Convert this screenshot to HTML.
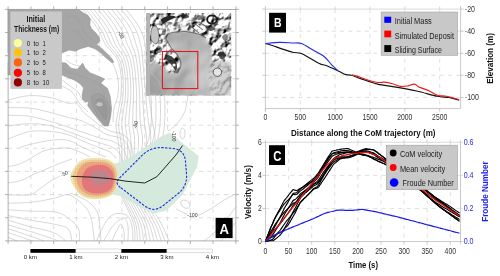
<!DOCTYPE html>
<html><head><meta charset="utf-8"><style>
html,body{margin:0;padding:0;background:#fff;width:500px;height:276px;overflow:hidden}
svg{display:block;will-change:transform}
text{font-family:"Liberation Sans",sans-serif}
</style></head><body>
<svg width="500" height="276" viewBox="0 0 500 276">
<rect width="500" height="276" fill="#fff"/>
<g id="map">
<g fill="none" stroke="#b0b0b0" stroke-width="0.5">
<path d="M8.0,100.0 C11.6,99.3 22.4,96.0 29.7,95.6 C37.0,95.2 45.1,96.5 51.5,97.8 C57.9,99.1 63.8,102.3 68.0,103.2 C72.2,104.1 74.2,101.8 76.7,103.2 C79.2,104.7 81.0,109.6 83.2,111.9 C85.4,114.2 86.8,115.0 89.7,117.3 C92.6,119.6 97.0,123.6 100.6,126.0 C104.2,128.4 107.9,130.2 111.5,131.5 C115.1,132.8 118.9,132.2 122.0,134.0 C125.1,135.8 128.0,137.7 130.0,142.0 C132.0,146.3 133.3,157.0 134.0,160.0"/>
<path d="M8.0,107.6 C12.3,107.8 24.0,107.1 34.0,108.7 C44.0,110.3 60.2,115.3 68.0,117.3 C75.8,119.3 76.7,119.0 81.0,120.6 C85.3,122.2 89.7,124.8 94.0,127.1 C98.3,129.4 102.8,132.9 107.1,134.7 C111.4,136.5 116.5,136.1 120.0,138.0 C123.5,139.9 126.2,142.0 128.0,146.0 C129.8,150.0 130.5,159.3 131.0,162.0"/>
<path d="M8.0,115.2 C11.6,115.4 22.4,115.2 29.7,116.3 C37.0,117.4 45.1,119.9 51.5,121.7 C57.9,123.5 62.4,125.2 68.0,127.1 C73.6,129.0 79.7,131.2 85.0,133.0 C90.3,134.8 95.2,136.5 100.0,138.0 C104.8,139.5 110.0,140.0 114.0,142.0 C118.0,144.0 121.7,146.2 124.0,150.0 C126.3,153.8 127.3,162.5 128.0,165.0"/>
<path d="M8.0,126.0 C10.9,125.7 18.9,124.1 25.4,123.9 C31.9,123.7 40.0,123.7 47.1,125.0 C54.2,126.3 61.7,129.3 68.0,131.5 C74.3,133.7 79.7,136.1 85.0,138.0 C90.3,139.9 95.5,141.5 100.0,143.0 C104.5,144.5 108.7,145.2 112.0,147.0 C115.3,148.8 118.0,150.8 120.0,154.0 C122.0,157.2 123.3,164.0 124.0,166.0"/>
<path d="M8.0,139.0 C11.6,137.8 22.4,132.8 29.7,131.5 C37.0,130.2 45.1,131.0 51.5,131.5 C57.9,132.0 62.4,132.9 68.0,134.7 C73.6,136.4 79.7,139.8 85.0,142.0 C90.3,144.2 95.8,146.3 100.0,148.0 C104.2,149.7 107.3,150.3 110.0,152.0 C112.7,153.7 115.0,157.0 116.0,158.0"/>
<path d="M18.9,148.0 C20.7,147.4 24.3,145.8 29.7,144.5 C35.1,143.2 45.1,140.9 51.5,140.2 C57.9,139.5 62.9,139.1 68.0,140.2 C73.1,141.3 77.3,144.9 82.0,147.0 C86.7,149.1 92.0,151.3 96.0,153.0 C100.0,154.7 104.3,156.3 106.0,157.0"/>
<path d="M8.0,166.5 C9.8,166.1 15.3,165.6 18.9,164.3 C22.5,163.0 26.1,160.9 29.7,158.9 C33.3,156.9 37.0,153.9 40.6,152.3 C44.2,150.7 46.9,149.8 51.5,149.1 C56.1,148.4 63.2,147.5 68.0,148.0 C72.8,148.5 76.3,150.5 80.0,152.0 C83.7,153.5 88.3,156.2 90.0,157.0"/>
<path d="M8.0,182.8 C10.2,182.4 16.6,182.1 21.0,180.6 C25.4,179.1 29.8,176.1 34.1,174.1 C38.5,172.1 42.8,170.5 47.1,168.7 C51.5,166.9 56.1,164.8 60.2,163.2 C64.4,161.6 70.0,159.7 72.0,159.0"/>
<path d="M8.0,194.7 C11.6,194.7 24.3,195.8 29.7,194.7 C35.1,193.6 37.0,190.5 40.6,188.2 C44.2,185.8 48.3,182.6 51.5,180.6 C54.7,178.6 58.6,176.8 60.0,176.0"/>
<path d="M8.0,203.2 C11.8,203.0 23.1,203.1 30.6,202.3 C38.1,201.5 47.1,199.8 53.3,198.5 C59.5,197.2 63.7,194.2 68.0,194.7 C72.3,195.2 76.1,198.9 79.3,201.3 C82.5,203.7 85.0,206.4 86.9,208.9 C88.8,211.4 89.7,213.6 90.6,216.4 C91.5,219.2 91.9,221.7 92.5,225.8 C93.1,229.9 94.1,238.5 94.4,241.0"/>
<path d="M70.0,193.0 C72.0,193.8 78.3,196.0 82.0,198.0 C85.7,200.0 89.3,202.3 92.0,205.0 C94.7,207.7 96.7,210.2 98.0,214.0 C99.3,217.8 99.5,223.5 100.0,228.0 C100.5,232.5 100.8,238.8 101.0,241.0"/>
<path d="M8.0,209.8 C11.8,210.0 23.1,210.8 30.6,211.1 C38.1,211.4 47.9,211.1 53.3,211.7 C58.6,212.3 60.2,213.4 62.7,214.5 C65.2,215.6 65.9,216.7 68.0,218.3 C70.1,219.9 73.6,221.8 75.5,224.0 C77.4,226.2 78.7,228.7 79.3,231.5 C79.9,234.3 79.3,239.4 79.3,241.0"/>
<path d="M8.0,215.5 C11.8,216.3 23.1,218.8 30.6,220.2 C38.1,221.6 47.1,222.6 53.3,224.0 C59.5,225.4 64.9,225.9 68.0,228.7 C71.1,231.5 71.3,238.9 72.0,241.0"/>
<path d="M8.0,220.2 C11.8,221.3 23.1,224.8 30.6,226.8 C38.1,228.9 47.4,230.1 53.3,232.5 C59.2,234.9 63.9,239.6 66.0,241.0"/>
<path d="M8.0,224.9 C11.8,226.0 23.1,229.2 30.6,231.5 C38.1,233.8 48.7,237.4 53.3,239.0 C57.9,240.6 57.2,240.7 58.0,241.0"/>
<path d="M8.0,228.7 C11.8,229.9 24.6,234.1 30.6,236.2 C36.6,238.2 41.8,240.2 44.0,241.0"/>
<path d="M8.0,232.5 C11.2,233.6 22.7,237.6 26.9,239.0 C31.1,240.4 32.0,240.7 33.0,241.0"/>
<path d="M8.0,237.2 C9.5,237.8 15.5,240.4 17.0,241.0"/>
<path d="M96.3,241.0 C97.9,237.8 102.9,226.5 105.7,222.1 C108.5,217.7 110.8,215.9 113.3,214.5 C115.8,213.1 118.3,213.3 120.8,213.6 C123.2,213.9 126.1,214.3 128.0,216.4 C129.9,218.5 131.2,221.9 132.0,226.0 C132.8,230.1 132.8,238.5 133.0,241.0"/>
<path d="M103.8,241.0 C105.1,238.8 108.9,231.2 111.4,227.7 C113.9,224.2 116.7,221.8 118.9,220.2 C121.1,218.6 123.1,217.3 124.6,218.3 C126.1,219.3 127.4,222.2 128.0,226.0 C128.6,229.8 128.0,238.5 128.0,241.0"/>
<path d="M112.0,241.0 C112.8,239.2 115.5,232.8 117.0,230.0 C118.5,227.2 119.8,223.7 121.0,224.0 C122.2,224.3 123.5,229.2 124.0,232.0 C124.5,234.8 124.0,239.5 124.0,241.0"/>
<path d="M176.0,208.9 C177.6,209.7 183.5,212.7 185.4,213.6 C187.3,214.5 187.2,214.4 187.5,214.6"/>
<path d="M198.0,214.6 C198.4,214.6 197.9,215.8 200.5,214.5 C203.1,213.2 209.6,209.5 213.7,207.0 C217.8,204.5 221.4,201.6 225.1,199.4 C228.8,197.2 234.2,194.7 236.0,193.8"/>
<path d="M204.3,241.0 C206.8,238.8 214.1,233.4 219.4,227.7 C224.7,222.0 233.2,210.4 236.0,207.0"/>
<path d="M221.0,241.0 C223.5,237.8 233.5,225.2 236.0,222.0"/>
<path d="M188.0,95.6 C187.4,98.3 186.7,106.8 184.7,111.7 C182.7,116.6 178.8,121.6 176.0,124.8 C173.2,128.0 169.3,130.0 168.0,131.0"/>
<path d="M62.0,80.0 C63.3,81.0 67.3,84.0 70.0,86.0 C72.7,88.0 76.0,89.7 78.0,92.0 C80.0,94.3 81.3,98.7 82.0,100.0"/>
<path d="M62.0,86.0 C63.7,87.0 69.0,89.0 72.0,92.0 C75.0,95.0 77.3,100.7 80.0,104.0 C82.7,107.3 86.7,110.7 88.0,112.0"/>
<path d="M66.0,60.0 C67.0,60.7 69.7,63.0 72.0,64.0 C74.3,65.0 78.7,65.7 80.0,66.0"/>
<path d="M100.0,50.0 C101.3,51.3 105.7,55.3 108.0,58.0 C110.3,60.7 112.3,62.3 114.0,66.0 C115.7,69.7 117.3,75.2 118.0,80.0 C118.7,84.8 118.7,90.3 118.0,95.0 C117.3,99.7 114.8,103.5 114.0,108.0 C113.2,112.5 113.2,119.7 113.0,122.0"/>
<path d="M83.0,9.4 C84.7,11.5 90.2,18.1 93.0,22.0 C95.8,25.9 98.0,29.3 100.0,33.0 C102.0,36.7 103.0,40.8 105.0,44.0 C107.0,47.2 109.8,49.2 112.0,52.0 C114.2,54.8 116.5,57.2 118.0,61.0 C119.5,64.8 120.5,69.3 121.0,75.0 C121.5,80.7 121.5,88.8 121.0,95.0 C120.5,101.2 118.8,107.0 118.0,112.0 C117.2,117.0 116.0,120.3 116.0,125.0 C116.0,129.7 117.3,134.2 118.0,140.0 C118.7,145.8 120.0,153.3 120.0,160.0 C120.0,166.7 117.8,174.2 118.0,180.0 C118.2,185.8 119.3,190.0 121.0,195.0 C122.7,200.0 125.8,205.0 128.0,210.0 C130.2,215.0 132.8,219.8 134.0,225.0 C135.2,230.2 134.8,238.3 135.0,241.0"/>
<path d="M86.0,9.4 C87.7,11.5 93.2,18.1 96.0,22.0 C98.9,25.9 101.0,29.3 103.0,33.0 C104.9,36.7 105.9,40.8 107.8,44.0 C109.7,47.2 112.4,49.2 114.4,52.0 C116.4,54.8 118.6,57.2 120.0,61.0 C121.4,64.8 122.3,69.3 122.8,75.0 C123.3,80.7 123.4,88.8 123.0,95.0 C122.6,101.2 121.1,107.0 120.3,112.0 C119.6,117.0 118.6,120.3 118.6,125.0 C118.7,129.7 120.0,134.2 120.6,140.0 C121.2,145.8 122.3,153.3 122.1,160.0 C122.0,166.7 119.6,174.2 119.7,180.0 C119.8,185.8 120.9,190.0 122.6,195.0 C124.2,200.0 127.5,205.0 129.8,210.0 C132.0,215.0 134.7,219.8 136.0,225.0 C137.3,230.2 137.2,238.3 137.4,241.0"/>
<path d="M89.8,9.4 C91.4,11.5 96.9,18.1 99.8,22.0 C102.6,25.9 104.7,29.3 106.6,33.0 C108.5,36.7 109.5,40.8 111.3,44.0 C113.1,47.2 115.5,49.2 117.3,52.0 C119.2,54.8 121.1,57.2 122.4,61.0 C123.7,64.8 124.6,69.3 125.1,75.0 C125.6,80.7 125.7,88.8 125.4,95.0 C125.1,101.2 123.8,107.0 123.2,112.0 C122.6,117.0 121.7,120.3 121.8,125.0 C121.9,129.7 123.3,134.2 123.8,140.0 C124.3,145.8 125.1,153.3 124.7,160.0 C124.4,166.7 121.8,174.2 121.8,180.0 C121.7,185.8 122.8,190.0 124.5,195.0 C126.1,200.0 129.6,205.0 131.9,210.0 C134.3,215.0 137.0,219.8 138.4,225.0 C139.8,230.2 140.0,238.3 140.3,241.0"/>
<path d="M93.8,9.4 C95.4,11.5 101.0,18.1 103.8,22.0 C106.6,25.9 108.6,29.3 110.5,33.0 C112.4,36.7 113.4,40.8 115.0,44.0 C116.7,47.2 118.8,49.2 120.5,52.0 C122.2,54.8 123.8,57.2 125.0,61.0 C126.2,64.8 127.0,69.3 127.5,75.0 C128.0,80.7 128.2,88.8 128.0,95.0 C127.8,101.2 126.7,107.0 126.3,112.0 C125.8,117.0 125.1,120.3 125.3,125.0 C125.4,129.7 126.9,134.2 127.3,140.0 C127.6,145.8 128.1,153.3 127.5,160.0 C127.0,166.7 124.2,174.2 124.0,180.0 C123.8,185.8 124.8,190.0 126.5,195.0 C128.2,200.0 131.8,205.0 134.3,210.0 C136.7,215.0 139.5,219.8 141.0,225.0 C142.6,230.2 143.1,238.3 143.5,241.0"/>
<path d="M98.0,9.4 C99.7,11.5 105.2,18.1 108.0,22.0 C110.8,25.9 112.8,29.3 114.6,33.0 C116.5,36.7 117.4,40.8 118.9,44.0 C120.5,47.2 122.4,49.2 123.9,52.0 C125.3,54.8 126.7,57.2 127.8,61.0 C128.8,64.8 129.6,69.3 130.1,75.0 C130.6,80.7 130.9,88.8 130.8,95.0 C130.7,101.2 129.8,107.0 129.5,112.0 C129.2,117.0 128.7,120.3 128.9,125.0 C129.1,129.7 130.6,134.2 130.9,140.0 C131.2,145.8 131.2,153.3 130.5,160.0 C129.7,166.7 126.7,174.2 126.4,180.0 C126.1,185.8 126.9,190.0 128.7,195.0 C130.4,200.0 134.2,205.0 136.7,210.0 C139.2,215.0 142.1,219.8 143.8,225.0 C145.5,230.2 146.3,238.3 146.9,241.0"/>
<path d="M102.4,9.4 C104.0,11.5 109.6,18.1 112.4,22.0 C115.1,25.9 117.2,29.3 118.9,33.0 C120.7,36.7 121.6,40.8 123.0,44.0 C124.4,47.2 126.1,49.2 127.3,52.0 C128.6,54.8 129.7,57.2 130.6,61.0 C131.5,64.8 132.2,69.3 132.7,75.0 C133.2,80.7 133.6,88.8 133.6,95.0 C133.6,101.2 133.0,107.0 132.9,112.0 C132.7,117.0 132.4,120.3 132.7,125.0 C133.0,129.7 134.5,134.2 134.7,140.0 C134.8,145.8 134.5,153.3 133.5,160.0 C132.5,166.7 129.2,174.2 128.8,180.0 C128.4,185.8 129.2,190.0 130.9,195.0 C132.7,200.0 136.6,205.0 139.3,210.0 C141.9,215.0 144.8,219.8 146.6,225.0 C148.5,230.2 149.7,238.3 150.3,241.0"/>
<path d="M106.9,9.4 C108.6,11.5 114.2,18.1 116.9,22.0 C119.6,25.9 121.6,29.3 123.3,33.0 C125.1,36.7 126.0,40.8 127.2,44.0 C128.5,47.2 129.8,49.2 130.9,52.0 C132.0,54.8 132.8,57.2 133.6,61.0 C134.3,64.8 134.9,69.3 135.4,75.0 C135.9,80.7 136.4,88.8 136.6,95.0 C136.7,101.2 136.3,107.0 136.3,112.0 C136.3,117.0 136.2,120.3 136.6,125.0 C136.9,129.7 138.5,134.2 138.6,140.0 C138.6,145.8 137.9,153.3 136.7,160.0 C135.5,166.7 131.9,174.2 131.3,180.0 C130.8,185.8 131.5,190.0 133.2,195.0 C135.0,200.0 139.2,205.0 141.9,210.0 C144.6,215.0 147.6,219.8 149.6,225.0 C151.6,230.2 153.2,238.3 153.9,241.0"/>
<path d="M111.5,9.4 C113.2,11.5 118.8,18.1 121.5,22.0 C124.3,25.9 126.2,29.3 127.9,33.0 C129.5,36.7 130.4,40.8 131.5,44.0 C132.7,47.2 133.7,49.2 134.6,52.0 C135.4,54.8 136.0,57.2 136.6,61.0 C137.2,64.8 137.8,69.3 138.3,75.0 C138.8,80.7 139.3,88.8 139.6,95.0 C139.9,101.2 139.7,107.0 139.9,112.0 C140.1,117.0 140.1,120.3 140.6,125.0 C141.0,129.7 142.7,134.2 142.6,140.0 C142.4,145.8 141.3,153.3 139.9,160.0 C138.5,166.7 134.6,174.2 133.9,180.0 C133.2,185.8 133.8,190.0 135.6,195.0 C137.4,200.0 141.8,205.0 144.6,210.0 C147.4,215.0 150.4,219.8 152.6,225.0 C154.7,230.2 156.7,238.3 157.6,241.0"/>
<path d="M116.3,9.4 C117.9,11.5 123.6,18.1 126.3,22.0 C129.0,25.9 130.9,29.3 132.5,33.0 C134.1,36.7 135.0,40.8 135.9,44.0 C136.9,47.2 137.7,49.2 138.3,52.0 C138.9,54.8 139.2,57.2 139.7,61.0 C140.1,64.8 140.6,69.3 141.1,75.0 C141.6,80.7 142.3,88.8 142.7,95.0 C143.1,101.2 143.2,107.0 143.5,112.0 C143.9,117.0 144.1,120.3 144.6,125.0 C145.1,129.7 146.9,134.2 146.6,140.0 C146.4,145.8 144.9,153.3 143.2,160.0 C141.5,166.7 137.4,174.2 136.6,180.0 C135.7,185.8 136.2,190.0 138.0,195.0 C139.8,200.0 144.4,205.0 147.3,210.0 C150.3,215.0 153.3,219.8 155.7,225.0 C158.0,230.2 160.4,238.3 161.3,241.0"/>
<path d="M121.1,9.4 C122.8,11.5 128.4,18.1 131.1,22.0 C133.8,25.9 135.7,29.3 137.2,33.0 C138.8,36.7 139.6,40.8 140.4,44.0 C141.3,47.2 141.7,49.2 142.1,52.0 C142.5,54.8 142.5,57.2 142.8,61.0 C143.1,64.8 143.5,69.3 144.0,75.0 C144.5,80.7 145.3,88.8 145.8,95.0 C146.3,101.2 146.7,107.0 147.2,112.0 C147.7,117.0 148.2,120.3 148.8,125.0 C149.4,129.7 151.1,134.2 150.8,140.0 C150.4,145.8 148.5,153.3 146.6,160.0 C144.7,166.7 140.3,174.2 139.3,180.0 C138.2,185.8 138.7,190.0 140.5,195.0 C142.3,200.0 147.1,205.0 150.1,210.0 C153.2,215.0 156.3,219.8 158.8,225.0 C161.3,230.2 164.1,238.3 165.1,241.0"/>
<path d="M126.0,9.4 C127.7,11.5 133.3,18.1 136.0,22.0 C138.7,25.9 140.5,29.3 142.0,33.0 C143.5,36.7 144.3,40.8 145.0,44.0 C145.7,47.2 145.8,49.2 146.0,52.0 C146.2,54.8 145.8,57.2 146.0,61.0 C146.2,64.8 146.5,69.3 147.0,75.0 C147.5,80.7 148.3,88.8 149.0,95.0 C149.7,101.2 150.3,107.0 151.0,112.0 C151.7,117.0 152.3,120.3 153.0,125.0 C153.7,129.7 155.5,134.2 155.0,140.0 C154.5,145.8 152.2,153.3 150.0,160.0 C147.8,166.7 143.2,174.2 142.0,180.0 C140.8,185.8 141.2,190.0 143.0,195.0 C144.8,200.0 149.8,205.0 153.0,210.0 C156.2,215.0 159.3,219.8 162.0,225.0 C164.7,230.2 167.8,238.3 169.0,241.0"/>
<path d="M151.0,95.6 C151.1,98.0 151.5,105.1 151.5,110.0 C151.5,114.9 151.4,120.3 151.0,125.0 C150.6,129.7 150.0,133.8 149.0,138.0 C148.0,142.2 145.7,148.0 145.0,150.0"/>
<path d="M155.5,95.6 C155.6,98.0 156.0,105.1 156.0,110.0 C156.0,114.9 155.9,120.3 155.5,125.0 C155.1,129.7 154.5,133.8 153.5,138.0 C152.5,142.2 150.2,148.0 149.5,150.0"/>
<path d="M160.0,95.6 C160.1,98.0 160.5,105.1 160.5,110.0 C160.5,114.9 160.4,120.3 160.0,125.0 C159.6,129.7 159.0,133.8 158.0,138.0 C157.0,142.2 154.7,148.0 154.0,150.0"/>
<path d="M164.5,95.6 C164.6,98.0 165.0,105.1 165.0,110.0 C165.0,114.9 164.9,120.3 164.5,125.0 C164.1,129.7 163.5,133.8 162.5,138.0 C161.5,142.2 159.2,148.0 158.5,150.0"/>
<ellipse cx="185.4" cy="204.2" rx="5" ry="3.6" transform="rotate(35 185.4 204.2)"/>
<ellipse cx="182.5" cy="133.5" rx="2.5" ry="5.5"/>
</g>
<g stroke="#cfcfcf" stroke-width="0.7" stroke-dasharray="4,4.3">
<line x1="30.9" y1="9.4" x2="30.9" y2="240.9"/>
<line x1="53.7" y1="9.4" x2="53.7" y2="240.9"/>
<line x1="76.4" y1="9.4" x2="76.4" y2="240.9"/>
<line x1="99.2" y1="9.4" x2="99.2" y2="240.9"/>
<line x1="122.0" y1="9.4" x2="122.0" y2="240.9"/>
<line x1="144.8" y1="9.4" x2="144.8" y2="240.9"/>
<line x1="167.6" y1="9.4" x2="167.6" y2="240.9"/>
<line x1="190.3" y1="9.4" x2="190.3" y2="240.9"/>
<line x1="213.1" y1="9.4" x2="213.1" y2="240.9"/>
<line x1="8.1" y1="32.5" x2="235.9" y2="32.5"/>
<line x1="8.1" y1="55.7" x2="235.9" y2="55.7"/>
<line x1="8.1" y1="78.8" x2="235.9" y2="78.8"/>
<line x1="8.1" y1="102.0" x2="235.9" y2="102.0"/>
<line x1="8.1" y1="125.2" x2="235.9" y2="125.2"/>
<line x1="8.1" y1="148.3" x2="235.9" y2="148.3"/>
<line x1="8.1" y1="171.4" x2="235.9" y2="171.4"/>
<line x1="8.1" y1="194.6" x2="235.9" y2="194.6"/>
<line x1="8.1" y1="217.8" x2="235.9" y2="217.8"/>
</g>
<path d="M8.0,9.4 78.6,9.4 82.1,12.1 88.0,15.6 90.3,19.1 89.9,25.0 91.5,28.5 96.2,33.3 99.3,37.5 100.0,40.5 98.6,43.0 96.5,44.2 102.1,48.8 109.0,55.5 112.5,59.5 113.8,62.3 112.0,62.8 105.6,57.4 99.7,52.0 94.7,48.8 88.3,46.4 80.3,48.8 75.5,51.2 69.2,50.1 64.4,52.0 62.0,53.0 8.0,53.0Z M8.0,62.5 62.0,62.5 66.0,63.1 70.8,67.9 77.1,69.5 82.7,63.1 85.1,67.9 89.9,72.7 98.0,75.9 104.8,79.0 100.8,83.1 107.6,88.5 110.3,96.7 111.6,108.9 110.4,118.4 108.2,126.0 103.9,126.0 98.4,119.5 93.0,113.0 87.6,105.4 88.7,101.5 85.4,102.1 82.5,99.5 82.1,95.0 83.5,88.0 80.3,83.9 74.0,79.9 67.6,77.5 62.0,75.1 8.0,75.1Z" fill="#a6a6a6" stroke="#8c8c8c" stroke-width="0.45" stroke-linejoin="round"/>
<rect x="8.1" y="9.4" width="4" height="58.5" fill="#a6a6a6"/>
<path d="M92.0,96.0 C93.2,94.2 97.7,93.5 100.0,94.0 C102.3,94.5 104.4,96.7 106.0,99.0 C107.6,101.3 108.9,104.8 109.5,108.0 C110.1,111.2 109.9,115.2 109.5,118.0 C109.1,120.8 108.2,124.0 107.0,124.5 C105.8,125.0 103.7,122.8 102.0,121.0 C100.3,119.2 98.5,116.7 97.0,114.0 C95.5,111.3 93.8,108.0 93.0,105.0 C92.2,102.0 90.8,97.8 92.0,96.0Z" fill="#a0a0a0" stroke="#8c8c8c" stroke-width="0.4"/>
<path d="M96.0,100.0 C96.8,98.7 100.3,98.3 102.0,99.0 C103.7,99.7 105.2,101.5 106.0,104.0 C106.8,106.5 107.2,111.3 107.0,114.0 C106.8,116.7 106.0,120.0 105.0,120.0 C104.0,120.0 102.3,116.2 101.0,114.0 C99.7,111.8 97.8,109.3 97.0,107.0 C96.2,104.7 95.2,101.3 96.0,100.0Z" fill="#989898" stroke="#8c8c8c" stroke-width="0.35"/>
<ellipse cx="99.5" cy="104.3" rx="3" ry="2" fill="#c4c4c4"/>
<g fill="none" stroke="#999" stroke-width="0.45">
<path d="M66.0,18.0 C67.3,17.7 71.7,15.3 74.0,16.0 C76.3,16.7 78.3,19.3 80.0,22.0 C81.7,24.7 82.3,29.3 84.0,32.0 C85.7,34.7 88.3,36.3 90.0,38.0 C91.7,39.7 93.3,41.3 94.0,42.0"/>
<path d="M70.0,30.0 C71.3,30.3 75.7,30.3 78.0,32.0 C80.3,33.7 82.3,38.0 84.0,40.0 C85.7,42.0 87.3,43.3 88.0,44.0"/>
<path d="M62.0,68.0 C63.3,68.7 67.0,70.7 70.0,72.0 C73.0,73.3 76.3,74.7 80.0,76.0 C83.7,77.3 88.7,78.3 92.0,80.0 C95.3,81.7 97.8,83.5 100.0,86.0 C102.2,88.5 104.2,93.5 105.0,95.0"/>
</g>
<path d="M104.0,166.0 112.0,164.5 122.7,161.0 135.4,154.0 149.9,144.0 162.0,136.0 169.8,132.7 198.8,156.2 197.0,167.0 192.3,176.0 182.7,194.4 166.4,210.7 152.8,213.5 141.9,208.0 120.2,195.8 112.0,194.4 104.0,190.0Z" fill="#d4e8db" fill-opacity="0.95"/>
<clipPath id="blobclip"><path d="M70.3,176.3 C70.6,174.3 71.7,171.7 73.0,169.4 C74.3,167.1 76.2,164.1 78.2,162.4 C80.2,160.7 82.5,159.7 85.1,159.0 C87.7,158.3 90.6,158.2 93.8,158.1 C97.0,158.0 101.2,158.0 104.3,158.6 C107.3,159.2 110.1,160.1 112.1,161.6 C114.1,163.1 115.4,165.2 116.4,167.7 C117.4,170.1 118.1,173.4 118.2,176.3 C118.3,179.2 118.0,182.2 117.3,185.0 C116.6,187.8 115.7,190.8 113.8,192.9 C111.9,195.0 109.0,196.5 106.0,197.6 C103.0,198.7 99.1,199.3 95.6,199.3 C92.1,199.3 88.0,198.7 85.1,197.6 C82.2,196.5 80.1,194.7 78.2,192.9 C76.3,191.1 75.0,188.7 73.8,186.8 C72.6,184.9 71.8,183.3 71.2,181.6 C70.6,179.8 70.0,178.3 70.3,176.3Z"/></clipPath>
<path d="M70.3,176.3 C70.6,174.3 71.7,171.7 73.0,169.4 C74.3,167.1 76.2,164.1 78.2,162.4 C80.2,160.7 82.5,159.7 85.1,159.0 C87.7,158.3 90.6,158.2 93.8,158.1 C97.0,158.0 101.2,158.0 104.3,158.6 C107.3,159.2 110.1,160.1 112.1,161.6 C114.1,163.1 115.4,165.2 116.4,167.7 C117.4,170.1 118.1,173.4 118.2,176.3 C118.3,179.2 118.0,182.2 117.3,185.0 C116.6,187.8 115.7,190.8 113.8,192.9 C111.9,195.0 109.0,196.5 106.0,197.6 C103.0,198.7 99.1,199.3 95.6,199.3 C92.1,199.3 88.0,198.7 85.1,197.6 C82.2,196.5 80.1,194.7 78.2,192.9 C76.3,191.1 75.0,188.7 73.8,186.8 C72.6,184.9 71.8,183.3 71.2,181.6 C70.6,179.8 70.0,178.3 70.3,176.3Z" fill="#eef4b8" fill-opacity="0.9"/>
<path d="M73.0,176.3 C73.0,173.2 74.1,170.8 75.6,168.5 C77.0,166.2 79.0,163.8 81.7,162.4 C84.5,161.0 88.3,160.2 92.1,159.8 C95.9,159.5 100.8,159.6 104.3,160.3 C107.8,161.0 111.0,162.4 113.0,164.2 C115.0,166.0 115.9,168.8 116.6,171.1 C117.3,173.4 117.1,175.4 117.0,178.0 C116.9,180.6 116.9,184.2 115.9,186.8 C114.9,189.4 113.7,191.9 111.2,193.7 C108.7,195.5 104.6,196.8 100.8,197.4 C97.0,198.0 92.1,197.8 88.6,197.0 C85.1,196.2 82.1,194.6 79.9,192.9 C77.7,191.2 76.8,189.6 75.6,186.8 C74.4,184.0 73.0,179.4 73.0,176.3Z" fill="#f3d596"/>
<path d="M76.4,176.3 C76.8,173.7 78.2,170.0 79.9,167.7 C81.7,165.4 84.0,163.6 86.9,162.6 C89.8,161.6 93.8,161.7 97.3,161.8 C100.8,162.0 105.0,162.4 107.7,163.5 C110.4,164.6 112.3,166.4 113.6,168.5 C114.9,170.6 115.2,173.6 115.4,176.3 C115.6,179.1 115.3,182.4 114.5,185.0 C113.7,187.6 112.6,190.3 110.3,192.0 C108.0,193.7 104.4,194.9 100.8,195.3 C97.2,195.7 91.9,195.4 88.6,194.4 C85.3,193.4 82.7,191.2 80.8,189.4 C78.9,187.6 78.0,185.5 77.3,183.3 C76.6,181.1 76.0,178.9 76.4,176.3Z" fill="#eeac82"/>
<path d="M82.5,176.3 C83.2,173.6 84.7,170.4 86.9,168.5 C89.1,166.6 92.4,165.4 95.6,165.0 C98.8,164.6 103.2,164.9 106.0,165.9 C108.8,166.9 110.8,169.1 112.1,171.1 C113.4,173.1 113.6,175.4 113.6,178.0 C113.6,180.6 113.4,184.5 112.1,186.8 C110.8,189.1 108.8,190.9 106.0,192.0 C103.2,193.1 98.8,193.7 95.6,193.5 C92.4,193.3 89.1,192.5 86.9,191.1 C84.7,189.7 83.2,187.5 82.5,185.0 C81.8,182.5 81.8,179.1 82.5,176.3Z" fill="#e57c80"/>
<ellipse cx="99.9" cy="177.7" rx="9.6" ry="7.4" fill="#bc8d93"/>
<g stroke="#c05050" stroke-width="0.3" stroke-opacity="0.3" clip-path="url(#blobclip)">
<line x1="70.0" y1="157" x2="70.0" y2="200"/>
<line x1="71.9" y1="157" x2="71.9" y2="200"/>
<line x1="73.8" y1="157" x2="73.8" y2="200"/>
<line x1="75.7" y1="157" x2="75.7" y2="200"/>
<line x1="77.6" y1="157" x2="77.6" y2="200"/>
<line x1="79.5" y1="157" x2="79.5" y2="200"/>
<line x1="81.4" y1="157" x2="81.4" y2="200"/>
<line x1="83.3" y1="157" x2="83.3" y2="200"/>
<line x1="85.2" y1="157" x2="85.2" y2="200"/>
<line x1="87.1" y1="157" x2="87.1" y2="200"/>
<line x1="89.0" y1="157" x2="89.0" y2="200"/>
<line x1="90.9" y1="157" x2="90.9" y2="200"/>
<line x1="92.8" y1="157" x2="92.8" y2="200"/>
<line x1="94.7" y1="157" x2="94.7" y2="200"/>
<line x1="96.6" y1="157" x2="96.6" y2="200"/>
<line x1="98.5" y1="157" x2="98.5" y2="200"/>
<line x1="100.4" y1="157" x2="100.4" y2="200"/>
<line x1="102.3" y1="157" x2="102.3" y2="200"/>
<line x1="104.2" y1="157" x2="104.2" y2="200"/>
<line x1="106.1" y1="157" x2="106.1" y2="200"/>
<line x1="108.0" y1="157" x2="108.0" y2="200"/>
<line x1="109.9" y1="157" x2="109.9" y2="200"/>
<line x1="111.8" y1="157" x2="111.8" y2="200"/>
<line x1="113.7" y1="157" x2="113.7" y2="200"/>
<line x1="115.6" y1="157" x2="115.6" y2="200"/>
<line x1="117.5" y1="157" x2="117.5" y2="200"/>
<line x1="70" y1="157.0" x2="119" y2="157.0"/>
<line x1="70" y1="158.9" x2="119" y2="158.9"/>
<line x1="70" y1="160.8" x2="119" y2="160.8"/>
<line x1="70" y1="162.7" x2="119" y2="162.7"/>
<line x1="70" y1="164.6" x2="119" y2="164.6"/>
<line x1="70" y1="166.5" x2="119" y2="166.5"/>
<line x1="70" y1="168.4" x2="119" y2="168.4"/>
<line x1="70" y1="170.3" x2="119" y2="170.3"/>
<line x1="70" y1="172.2" x2="119" y2="172.2"/>
<line x1="70" y1="174.1" x2="119" y2="174.1"/>
<line x1="70" y1="176.0" x2="119" y2="176.0"/>
<line x1="70" y1="177.9" x2="119" y2="177.9"/>
<line x1="70" y1="179.8" x2="119" y2="179.8"/>
<line x1="70" y1="181.7" x2="119" y2="181.7"/>
<line x1="70" y1="183.6" x2="119" y2="183.6"/>
<line x1="70" y1="185.5" x2="119" y2="185.5"/>
<line x1="70" y1="187.4" x2="119" y2="187.4"/>
<line x1="70" y1="189.3" x2="119" y2="189.3"/>
<line x1="70" y1="191.2" x2="119" y2="191.2"/>
<line x1="70" y1="193.1" x2="119" y2="193.1"/>
<line x1="70" y1="195.0" x2="119" y2="195.0"/>
<line x1="70" y1="196.9" x2="119" y2="196.9"/>
<line x1="70" y1="198.8" x2="119" y2="198.8"/>
</g>
<path d="M120.1,187.2 Q114.5,183.0 119.4,178.1 L141.8,155.7 Q151.0,146.5 163.9,147.7 L172.5,148.4 Q184.5,149.5 185.5,161.5 L186.5,174.0 Q187.5,186.0 178.2,193.5 L163.3,205.5 Q154.0,213.0 144.4,205.7 Z" fill="none" stroke="#1f2fe0" stroke-width="1.15" stroke-dasharray="1.5,2.3" stroke-linecap="round"/>
<polyline points="71.2,176.3 92.1,177.2 109.5,178.6 126.0,181.2 144.7,183.0 156.9,176.7 175.9,155.0 182.5,145.5" fill="none" stroke="#111" stroke-width="0.9"/>
<g font-family="Liberation Sans, sans-serif" font-size="5.2" fill="#333">
<text x="64.3" y="175.5" text-anchor="middle" transform="rotate(-25 64.3 173.7)">-50</text>
<text x="121.2" y="36.6" text-anchor="middle" transform="rotate(62 121.2 34.8)">-50</text>
<text x="135.7" y="126.6" text-anchor="middle" transform="rotate(-80 135.7 124.8)">-50</text>
<text x="173.4" y="138" text-anchor="middle" transform="rotate(90 173.4 136.3)">-100</text>
<text x="192.4" y="216.8" text-anchor="middle">-100</text>
</g>
<defs>
<filter id="hs" x="0" y="0" width="100%" height="100%" color-interpolation-filters="sRGB"><feTurbulence type="fractalNoise" baseFrequency="0.13" numOctaves="4" seed="5" result="n"/><feDiffuseLighting in="n" surfaceScale="3.2" lighting-color="#fff" diffuseConstant="1.0" result="l"><feDistantLight azimuth="225" elevation="45"/></feDiffuseLighting><feColorMatrix type="matrix" values="1.6 0 0 0 -0.27  1.6 0 0 0 -0.27  1.6 0 0 0 -0.27  0 0 0 1 0"/></filter>
<filter id="hs2" x="0" y="0" width="100%" height="100%" color-interpolation-filters="sRGB"><feTurbulence type="fractalNoise" baseFrequency="0.05" numOctaves="2" seed="3" result="n"/><feDiffuseLighting in="n" surfaceScale="4" lighting-color="#fff" diffuseConstant="0.95" result="d"><feDistantLight azimuth="225" elevation="55"/></feDiffuseLighting><feComposite in="d" in2="SourceAlpha" operator="in"/></filter>
<filter id="blur1" x="-10%" y="-10%" width="120%" height="120%"><feGaussianBlur stdDeviation="0.9"/></filter><filter id="blur05" x="-20%" y="-20%" width="140%" height="140%"><feGaussianBlur stdDeviation="0.5"/></filter><filter id="blur2" x="-50%" y="-50%" width="200%" height="200%"><feGaussianBlur stdDeviation="4"/></filter>
<clipPath id="ic"><rect x="146.1" y="13" width="85.1" height="82.6"/></clipPath>
<linearGradient id="pg" x1="0" y1="1" x2="1" y2="0"><stop offset="0" stop-color="#a0a0a0"/><stop offset="0.5" stop-color="#b0b0b0"/><stop offset="1" stop-color="#bcbcbc"/></linearGradient>
</defs>
<g clip-path="url(#ic)">
<rect x="146.1" y="13" width="85.1" height="82.6" fill="#bdbdbd"/>
<rect x="146.1" y="13" width="85.1" height="82.6" filter="url(#hs)"/>
<g filter="url(#blur1)"><path d="M168.0,34.0 176.0,32.0 186.0,31.5 194.0,33.0 201.0,35.0 206.0,38.0 209.0,44.0 212.0,50.0 211.0,58.0 210.0,66.0 208.0,76.0 209.0,85.0 211.0,96.0 146.0,96.0 146.0,66.0 152.0,63.0 158.0,62.5 164.0,68.0 170.0,73.0 177.0,73.0 181.0,65.0 178.0,56.0 172.0,49.0 169.0,44.0 166.0,39.0Z" fill="url(#pg)"/></g>
<path d="M168.0,34.0 176.0,32.0 186.0,31.5 194.0,33.0 201.0,35.0 206.0,38.0 209.0,44.0 212.0,50.0 211.0,58.0 210.0,66.0 208.0,76.0 209.0,85.0 211.0,96.0 146.0,96.0 146.0,66.0 152.0,63.0 158.0,62.5 164.0,68.0 170.0,73.0 177.0,73.0 181.0,65.0 178.0,56.0 172.0,49.0 169.0,44.0 166.0,39.0Z" fill="#fff" filter="url(#hs2)" opacity="0.28"/>
<g filter="url(#blur1)"><path d="M207.0,62.0 220.0,60.0 231.2,62.0 231.2,96.0 207.0,96.0Z" fill="#c2c2c2" opacity="0.75"/></g>
<g filter="url(#blur2)">
<ellipse cx="186" cy="37" rx="20" ry="6" fill="#7a7a7a" opacity="0.3"/>
<ellipse cx="156" cy="84" rx="12" ry="11" fill="#7a7a7a" opacity="0.3"/>
<ellipse cx="200" cy="75" rx="9" ry="16" fill="#e0e0e0" opacity="0.35"/>
</g>
<g filter="url(#blur05)" fill="none" stroke="#3a3a3a" stroke-width="1.1" opacity="0.6">
<path d="M166.0,39.0 C166.3,38.2 166.3,35.2 168.0,34.0 C169.7,32.8 173.0,32.4 176.0,32.0 C179.0,31.6 183.0,31.3 186.0,31.5 C189.0,31.7 191.5,32.4 194.0,33.0 C196.5,33.6 199.0,34.2 201.0,35.0 C203.0,35.8 205.2,37.5 206.0,38.0"/>
<path d="M166.0,39.0 C166.5,39.8 168.0,42.3 169.0,44.0 C170.0,45.7 170.5,47.0 172.0,49.0 C173.5,51.0 176.5,53.3 178.0,56.0 C179.5,58.7 181.2,62.2 181.0,65.0 C180.8,67.8 177.7,71.7 177.0,73.0"/>
</g>
<g fill="none" stroke="#dcdcdc" stroke-width="0.7" opacity="0.45">
<path d="M200.0,50.0 C199.2,51.7 196.2,56.3 195.0,60.0 C193.8,63.7 192.7,68.0 193.0,72.0 C193.3,76.0 196.5,80.5 197.0,84.0 C197.5,87.5 196.2,91.5 196.0,93.0"/>
<path d="M150.0,72.0 C151.3,73.3 155.8,76.7 158.0,80.0 C160.2,83.3 162.2,90.0 163.0,92.0"/>
</g>
<g filter="url(#blur05)" fill="#262626">
<path d="M161.0,20.0 C161.3,18.8 163.3,17.8 165.0,17.0 C166.7,16.2 169.2,15.5 171.0,15.5 C172.8,15.5 175.8,16.4 176.0,17.0 C176.2,17.6 173.5,18.2 172.0,19.0 C170.5,19.8 168.5,20.7 167.0,21.5 C165.5,22.3 164.0,24.2 163.0,24.0 C162.0,23.8 160.7,21.2 161.0,20.0Z"/>
<path d="M180.0,15.0 C180.3,14.3 184.5,14.2 186.0,14.5 C187.5,14.8 189.3,16.3 189.0,17.0 C188.7,17.7 185.5,18.8 184.0,18.5 C182.5,18.2 179.7,15.7 180.0,15.0Z" opacity="0.8"/>
<ellipse cx="212" cy="19.5" rx="4.8" ry="4.2" fill="none" stroke="#1a1a1a" stroke-width="1.8"/>
<path d="M206.0,27.0 C206.3,26.2 210.5,26.2 212.0,26.5 C213.5,26.8 215.3,28.2 215.0,29.0 C214.7,29.8 211.5,31.3 210.0,31.0 C208.5,30.7 205.7,27.8 206.0,27.0Z" opacity="0.75"/>
<path d="M152.0,28.0 C153.0,26.0 155.8,25.3 157.0,27.0 C158.2,28.7 159.2,35.2 159.0,38.0 C158.8,40.8 157.3,43.8 156.0,44.0 C154.7,44.2 151.7,41.7 151.0,39.0 C150.3,36.3 151.0,30.0 152.0,28.0Z" fill="#c4c4c4" stroke="#333" stroke-width="0.5"/>
<path d="M166.0,55.0 C167.0,54.7 169.5,55.2 171.0,56.0 C172.5,56.8 174.0,58.3 175.0,60.0 C176.0,61.7 176.8,64.2 177.0,66.0 C177.2,67.8 176.7,70.8 176.0,71.0 C175.3,71.2 174.2,68.5 173.0,67.0 C171.8,65.5 170.3,63.5 169.0,62.0 C167.7,60.5 165.5,59.2 165.0,58.0 C164.5,56.8 165.0,55.3 166.0,55.0Z" opacity="0.85"/>
<path d="M218.0,53.0 C218.3,51.8 221.7,51.5 223.0,52.0 C224.3,52.5 226.3,54.8 226.0,56.0 C225.7,57.2 222.3,59.5 221.0,59.0 C219.7,58.5 217.7,54.2 218.0,53.0Z" opacity="0.8"/>
<path d="M163.0,29.0 C163.7,28.3 165.7,29.0 166.0,30.0 C166.3,31.0 165.7,34.3 165.0,35.0 C164.3,35.7 162.3,35.0 162.0,34.0 C161.7,33.0 162.3,29.7 163.0,29.0Z" opacity="0.55"/>
<path d="M222.0,37.0 C222.2,35.8 225.0,33.8 226.0,34.0 C227.0,34.2 228.2,36.8 228.0,38.0 C227.8,39.2 226.0,41.2 225.0,41.0 C224.0,40.8 221.8,38.2 222.0,37.0Z" opacity="0.55"/>
<path d="M189,25 L199,33 M194,23 L203,30 M199,22 L207,27" stroke="#3a3a3a" stroke-width="0.8" fill="none"/>
<path d="M156.0,48.0 C156.3,46.8 159.0,45.5 160.0,46.0 C161.0,46.5 162.3,49.8 162.0,51.0 C161.7,52.2 159.0,53.5 158.0,53.0 C157.0,52.5 155.7,49.2 156.0,48.0Z" opacity="0.55"/>
<path d="M197.0,16.0 C197.5,15.2 200.2,15.0 201.0,15.5 C201.8,16.0 202.5,18.2 202.0,19.0 C201.5,19.8 198.8,20.5 198.0,20.0 C197.2,19.5 196.5,16.8 197.0,16.0Z" opacity="0.6"/>
<path d="M150.0,56.0 C150.5,55.0 152.3,54.3 153.0,55.0 C153.7,55.7 154.5,59.0 154.0,60.0 C153.5,61.0 150.7,61.7 150.0,61.0 C149.3,60.3 149.5,57.0 150.0,56.0Z" opacity="0.5"/>
</g>
<circle cx="174" cy="65" r="1.6" fill="#f4f4f4"/>
<circle cx="217.4" cy="72.2" r="4.2" fill="#e4e4e4" stroke="#404040" stroke-width="0.8"/>
<rect x="146.1" y="13" width="4" height="82.6" fill="#b4b4b4"/>
</g>
<rect x="162.4" y="51.5" width="35.4" height="37.1" fill="none" stroke="#e8141e" stroke-width="1.1"/>
<g stroke="#9c9c9c" stroke-width="0.8" fill="none">
<rect x="8.1" y="9.4" width="227.8" height="231.5"/>
<line x1="8.1" y1="6.4" x2="8.1" y2="9.4"/>
<line x1="8.1" y1="240.9" x2="8.1" y2="243.9"/>
<line x1="30.9" y1="6.4" x2="30.9" y2="9.4"/>
<line x1="30.9" y1="240.9" x2="30.9" y2="243.9"/>
<line x1="53.7" y1="6.4" x2="53.7" y2="9.4"/>
<line x1="53.7" y1="240.9" x2="53.7" y2="243.9"/>
<line x1="76.4" y1="6.4" x2="76.4" y2="9.4"/>
<line x1="76.4" y1="240.9" x2="76.4" y2="243.9"/>
<line x1="99.2" y1="6.4" x2="99.2" y2="9.4"/>
<line x1="99.2" y1="240.9" x2="99.2" y2="243.9"/>
<line x1="122.0" y1="6.4" x2="122.0" y2="9.4"/>
<line x1="122.0" y1="240.9" x2="122.0" y2="243.9"/>
<line x1="144.8" y1="6.4" x2="144.8" y2="9.4"/>
<line x1="144.8" y1="240.9" x2="144.8" y2="243.9"/>
<line x1="167.6" y1="6.4" x2="167.6" y2="9.4"/>
<line x1="167.6" y1="240.9" x2="167.6" y2="243.9"/>
<line x1="190.3" y1="6.4" x2="190.3" y2="9.4"/>
<line x1="190.3" y1="240.9" x2="190.3" y2="243.9"/>
<line x1="213.1" y1="6.4" x2="213.1" y2="9.4"/>
<line x1="213.1" y1="240.9" x2="213.1" y2="243.9"/>
<line x1="235.9" y1="6.4" x2="235.9" y2="9.4"/>
<line x1="235.9" y1="240.9" x2="235.9" y2="243.9"/>
<line x1="5.1" y1="9.4" x2="8.1" y2="9.4"/>
<line x1="235.9" y1="9.4" x2="238.9" y2="9.4"/>
<line x1="5.1" y1="32.5" x2="8.1" y2="32.5"/>
<line x1="235.9" y1="32.5" x2="238.9" y2="32.5"/>
<line x1="5.1" y1="55.7" x2="8.1" y2="55.7"/>
<line x1="235.9" y1="55.7" x2="238.9" y2="55.7"/>
<line x1="5.1" y1="78.8" x2="8.1" y2="78.8"/>
<line x1="235.9" y1="78.8" x2="238.9" y2="78.8"/>
<line x1="5.1" y1="102.0" x2="8.1" y2="102.0"/>
<line x1="235.9" y1="102.0" x2="238.9" y2="102.0"/>
<line x1="5.1" y1="125.2" x2="8.1" y2="125.2"/>
<line x1="235.9" y1="125.2" x2="238.9" y2="125.2"/>
<line x1="5.1" y1="148.3" x2="8.1" y2="148.3"/>
<line x1="235.9" y1="148.3" x2="238.9" y2="148.3"/>
<line x1="5.1" y1="171.4" x2="8.1" y2="171.4"/>
<line x1="235.9" y1="171.4" x2="238.9" y2="171.4"/>
<line x1="5.1" y1="194.6" x2="8.1" y2="194.6"/>
<line x1="235.9" y1="194.6" x2="238.9" y2="194.6"/>
<line x1="5.1" y1="217.8" x2="8.1" y2="217.8"/>
<line x1="235.9" y1="217.8" x2="238.9" y2="217.8"/>
<line x1="5.1" y1="240.9" x2="8.1" y2="240.9"/>
<line x1="235.9" y1="240.9" x2="238.9" y2="240.9"/>
</g>
<rect x="10.4" y="11.5" width="51.5" height="77.4" fill="#c9c9c9"/>
<g font-family="Liberation Sans, sans-serif" fill="#1a1a1a">
<text x="26.4" y="22.4" font-size="8.4" font-weight="bold" textLength="18.8" lengthAdjust="spacingAndGlyphs">Initial</text>
<text x="14.1" y="32.2" font-size="8.4" font-weight="bold" textLength="45.2" lengthAdjust="spacingAndGlyphs">Thickness (m)</text>
<circle cx="17.9" cy="43.1" r="4.1" fill="#fdfd9c"/>
<text x="26.8" y="45.6" font-size="7" textLength="3.4" lengthAdjust="spacingAndGlyphs">0</text>
<text x="33.4" y="45.6" font-size="7" textLength="5.4" lengthAdjust="spacingAndGlyphs">to</text>
<text x="42.6" y="45.6" font-size="7" textLength="3.3" lengthAdjust="spacingAndGlyphs">1</text>
<circle cx="17.9" cy="52.7" r="4.1" fill="#fec30a"/>
<text x="26.8" y="55.2" font-size="7" textLength="3.4" lengthAdjust="spacingAndGlyphs">1</text>
<text x="33.4" y="55.2" font-size="7" textLength="5.4" lengthAdjust="spacingAndGlyphs">to</text>
<text x="42.6" y="55.2" font-size="7" textLength="3.3" lengthAdjust="spacingAndGlyphs">2</text>
<circle cx="17.9" cy="62.4" r="4.1" fill="#fc6210"/>
<text x="26.8" y="64.9" font-size="7" textLength="3.4" lengthAdjust="spacingAndGlyphs">2</text>
<text x="33.4" y="64.9" font-size="7" textLength="5.4" lengthAdjust="spacingAndGlyphs">to</text>
<text x="42.6" y="64.9" font-size="7" textLength="3.3" lengthAdjust="spacingAndGlyphs">5</text>
<circle cx="17.9" cy="72.8" r="4.1" fill="#fd0404"/>
<text x="26.8" y="75.3" font-size="7" textLength="3.4" lengthAdjust="spacingAndGlyphs">5</text>
<text x="33.4" y="75.3" font-size="7" textLength="5.4" lengthAdjust="spacingAndGlyphs">to</text>
<text x="42.6" y="75.3" font-size="7" textLength="3.3" lengthAdjust="spacingAndGlyphs">8</text>
<circle cx="17.9" cy="82.4" r="4.1" fill="#930000"/>
<text x="26.8" y="84.9" font-size="7" textLength="3.4" lengthAdjust="spacingAndGlyphs">8</text>
<text x="33.4" y="84.9" font-size="7" textLength="5.4" lengthAdjust="spacingAndGlyphs">to</text>
<text x="42.6" y="84.9" font-size="7" textLength="6.6" lengthAdjust="spacingAndGlyphs">10</text>
</g>
<rect x="215.6" y="217.9" width="17" height="20.2" fill="#000"/>
<text x="219.6" y="233.5" font-family="Liberation Sans, sans-serif" font-size="15.5" font-weight="bold" fill="#fff" textLength="9.5" lengthAdjust="spacingAndGlyphs">A</text>
<rect x="30.4" y="249" width="45.5" height="3.8" fill="#000"/>
<rect x="75.9" y="249" width="45.5" height="3.8" fill="#fff" stroke="#bbb" stroke-width="0.5"/>
<rect x="121.4" y="249" width="45.5" height="3.8" fill="#000"/>
<rect x="166.9" y="249" width="45.5" height="3.8" fill="#fff" stroke="#bbb" stroke-width="0.5"/>
<g font-family="Liberation Sans, sans-serif" font-size="6.1" fill="#1a1a1a">
<text x="23.8" y="259.3" textLength="13.2" lengthAdjust="spacingAndGlyphs">0 km</text>
<text x="69.3" y="259.3" textLength="13.2" lengthAdjust="spacingAndGlyphs">1 km</text>
<text x="114.8" y="259.3" textLength="13.2" lengthAdjust="spacingAndGlyphs">2 km</text>
<text x="160.3" y="259.3" textLength="13.2" lengthAdjust="spacingAndGlyphs">3 km</text>
<text x="205.8" y="259.3" textLength="13.2" lengthAdjust="spacingAndGlyphs">4 km</text>
</g>
</g>
<g id="chartB">
<g stroke="#d3d3d3" stroke-width="0.7" stroke-dasharray="4,4.3">
<line x1="300.3" y1="9.1" x2="300.3" y2="108.5"/>
<line x1="335.1" y1="9.1" x2="335.1" y2="108.5"/>
<line x1="370.0" y1="9.1" x2="370.0" y2="108.5"/>
<line x1="404.8" y1="9.1" x2="404.8" y2="108.5"/>
<line x1="439.7" y1="9.1" x2="439.7" y2="108.5"/>
<line x1="265.4" y1="31.2" x2="460.6" y2="31.2"/>
<line x1="265.4" y1="53.3" x2="460.6" y2="53.3"/>
<line x1="265.4" y1="75.3" x2="460.6" y2="75.3"/>
<line x1="265.4" y1="97.4" x2="460.6" y2="97.4"/>
</g>
<line x1="265.4" y1="9.1" x2="460.6" y2="9.1" stroke="#d0d0d0" stroke-width="0.8"/>
<g stroke="#c8c8c8" stroke-width="0.7">
<line x1="300.3" y1="6.6" x2="300.3" y2="9.1"/>
<line x1="335.1" y1="6.6" x2="335.1" y2="9.1"/>
<line x1="370.0" y1="6.6" x2="370.0" y2="9.1"/>
<line x1="404.8" y1="6.6" x2="404.8" y2="9.1"/>
<line x1="439.7" y1="6.6" x2="439.7" y2="9.1"/>
</g>
<g stroke="#bcbcbc" stroke-width="0.8">
<line x1="265.4" y1="6.1" x2="265.4" y2="111.5"/>
<line x1="460.6" y1="6.1" x2="460.6" y2="108.5"/>
<line x1="265.4" y1="108.5" x2="460.6" y2="108.5"/>
<line x1="265.4" y1="108.5" x2="265.4" y2="111.5"/>
<line x1="300.3" y1="108.5" x2="300.3" y2="111.5"/>
<line x1="335.1" y1="108.5" x2="335.1" y2="111.5"/>
<line x1="370.0" y1="108.5" x2="370.0" y2="111.5"/>
<line x1="404.8" y1="108.5" x2="404.8" y2="111.5"/>
<line x1="439.7" y1="108.5" x2="439.7" y2="111.5"/>
<line x1="262.4" y1="9.1" x2="265.4" y2="9.1"/>
<line x1="460.6" y1="9.1" x2="463.6" y2="9.1"/>
<line x1="262.4" y1="31.2" x2="265.4" y2="31.2"/>
<line x1="460.6" y1="31.2" x2="463.6" y2="31.2"/>
<line x1="262.4" y1="53.3" x2="265.4" y2="53.3"/>
<line x1="460.6" y1="53.3" x2="463.6" y2="53.3"/>
<line x1="262.4" y1="75.3" x2="265.4" y2="75.3"/>
<line x1="460.6" y1="75.3" x2="463.6" y2="75.3"/>
<line x1="262.4" y1="97.4" x2="265.4" y2="97.4"/>
<line x1="460.6" y1="97.4" x2="463.6" y2="97.4"/>
</g>
<path d="M265.4,43.5 C266.7,43.9 270.3,44.8 273.0,45.7 C275.7,46.6 278.4,47.8 281.7,48.9 C285.0,50.0 289.3,51.4 292.6,52.2 C295.9,53.0 298.4,52.5 301.3,53.5 C304.2,54.5 306.9,56.6 310.0,58.3 C313.1,60.0 317.3,62.6 319.8,63.7 C322.3,64.9 323.2,64.5 325.2,65.2 C327.2,65.9 329.5,67.0 331.7,68.0 C333.9,69.0 335.9,69.8 338.3,70.9 C340.7,72.0 343.7,73.9 345.9,74.6 C348.1,75.3 348.7,74.5 351.3,75.2 C353.9,75.9 357.1,77.4 361.5,78.9 C365.9,80.4 371.9,82.7 377.6,84.1 C383.4,85.5 389.5,85.9 396.0,87.1 C402.5,88.2 409.8,89.5 416.7,91.0 C423.6,92.5 432.0,95.2 437.4,96.3 C442.8,97.4 445.3,96.8 448.9,97.5 C452.5,98.2 457.5,99.8 459.2,100.2" fill="none" stroke="#111" stroke-width="1.15"/>
<path d="M352.0,74.9 C352.8,75.1 354.2,75.2 356.9,76.1 C359.6,77.0 364.9,79.1 368.4,80.2 C371.8,81.3 374.9,82.2 377.6,82.5 C380.3,82.8 382.0,81.9 384.5,82.1 C387.0,82.3 389.8,83.0 392.5,83.7 C395.2,84.4 398.1,86.0 400.6,86.4 C403.1,86.8 405.2,86.4 407.5,86.0 C409.8,85.6 412.5,83.9 414.4,84.1 C416.3,84.3 416.7,86.0 419.0,87.1 C421.3,88.1 425.1,89.1 428.2,90.4 C431.3,91.8 434.3,94.2 437.4,95.2 C440.5,96.2 443.0,95.6 446.6,96.3 C450.2,97.0 457.1,99.0 459.2,99.6" fill="none" stroke="#f01818" stroke-width="1.15"/>
<path d="M265.4,43.5 C267.8,43.3 275.1,42.5 279.6,42.4 C284.1,42.3 289.0,42.8 292.6,43.0 C296.2,43.2 298.0,42.4 301.3,43.5 C304.6,44.6 308.4,47.4 312.2,49.6 C316.0,51.8 320.9,54.0 324.1,56.5 C327.4,59.0 329.3,62.4 331.7,64.8 C334.1,67.2 337.2,69.9 338.3,70.9" fill="none" stroke="#2828f0" stroke-width="1.15"/>
<rect x="269.1" y="12.8" width="16.9" height="19.8" fill="#000"/>
<text x="274" y="27.3" font-family="Liberation Sans, sans-serif" font-size="13.5" font-weight="bold" fill="#fff" textLength="7.6" lengthAdjust="spacingAndGlyphs">B</text>
<rect x="381.1" y="12" width="76.6" height="43.4" fill="#c8c8c8" stroke="#a8a8a8" stroke-width="0.6"/>
<rect x="384.3" y="16.7" width="6.9" height="6.1" fill="#0000ff"/>
<rect x="384.3" y="30.6" width="6.9" height="6.7" fill="#ff0000"/>
<rect x="384.3" y="45.1" width="6.9" height="6.9" fill="#000"/>
<g font-family="Liberation Sans, sans-serif" font-size="8.4" fill="#1a1a1a">
<text x="394.8" y="24" textLength="37" lengthAdjust="spacingAndGlyphs">Initial Mass</text>
<text x="394.8" y="38.5" textLength="59.2" lengthAdjust="spacingAndGlyphs">Simulated Deposit</text>
<text x="394.8" y="52.6" textLength="47.1" lengthAdjust="spacingAndGlyphs">Sliding Surface</text>
</g>
<g font-family="Liberation Sans, sans-serif" font-size="8.4" fill="#333">
<text x="464.8" y="11.8" textLength="10.2" lengthAdjust="spacingAndGlyphs">-20</text>
<text x="464.8" y="33.9" textLength="10.2" lengthAdjust="spacingAndGlyphs">-40</text>
<text x="464.8" y="56.0" textLength="10.2" lengthAdjust="spacingAndGlyphs">-60</text>
<text x="464.8" y="78.1" textLength="10.2" lengthAdjust="spacingAndGlyphs">-80</text>
<text x="464.8" y="100.2" textLength="14.0" lengthAdjust="spacingAndGlyphs">-100</text>
<text x="263.5" y="119.9" textLength="3.8" lengthAdjust="spacingAndGlyphs">0</text>
<text x="294.6" y="119.9" textLength="11.4" lengthAdjust="spacingAndGlyphs">500</text>
<text x="327.5" y="119.9" textLength="15.2" lengthAdjust="spacingAndGlyphs">1000</text>
<text x="362.4" y="119.9" textLength="15.2" lengthAdjust="spacingAndGlyphs">1500</text>
<text x="397.2" y="119.9" textLength="15.2" lengthAdjust="spacingAndGlyphs">2000</text>
<text x="432.1" y="119.9" textLength="15.2" lengthAdjust="spacingAndGlyphs">2500</text>
</g>
<text x="291" y="135.5" font-family="Liberation Sans, sans-serif" font-size="8.7" font-weight="bold" fill="#111" textLength="144.5" lengthAdjust="spacingAndGlyphs">Distance along the CoM trajectory (m)</text>
<text transform="translate(492.8 58.5) rotate(-90)" font-family="Liberation Sans, sans-serif" font-size="8.7" font-weight="bold" fill="#111" text-anchor="middle" textLength="50.7" lengthAdjust="spacingAndGlyphs">Elevation (m)</text>
</g>
<g id="chartC">
<g stroke="#d3d3d3" stroke-width="0.7" stroke-dasharray="4,4.3">
<line x1="288.6" y1="142.3" x2="288.6" y2="241.5"/>
<line x1="311.7" y1="142.3" x2="311.7" y2="241.5"/>
<line x1="334.8" y1="142.3" x2="334.8" y2="241.5"/>
<line x1="357.9" y1="142.3" x2="357.9" y2="241.5"/>
<line x1="381.0" y1="142.3" x2="381.0" y2="241.5"/>
<line x1="404.1" y1="142.3" x2="404.1" y2="241.5"/>
<line x1="427.2" y1="142.3" x2="427.2" y2="241.5"/>
<line x1="450.3" y1="142.3" x2="450.3" y2="241.5"/>
<line x1="265.5" y1="208.4" x2="460.5" y2="208.4"/>
<line x1="265.5" y1="175.4" x2="460.5" y2="175.4"/>
</g>
<line x1="265.5" y1="142.3" x2="460.5" y2="142.3" stroke="#d0d0d0" stroke-width="0.8"/>
<g stroke="#c8c8c8" stroke-width="0.7">
<line x1="288.6" y1="139.8" x2="288.6" y2="142.3"/>
<line x1="311.7" y1="139.8" x2="311.7" y2="142.3"/>
<line x1="334.8" y1="139.8" x2="334.8" y2="142.3"/>
<line x1="357.9" y1="139.8" x2="357.9" y2="142.3"/>
<line x1="381.0" y1="139.8" x2="381.0" y2="142.3"/>
<line x1="404.1" y1="139.8" x2="404.1" y2="142.3"/>
<line x1="427.2" y1="139.8" x2="427.2" y2="142.3"/>
<line x1="450.3" y1="139.8" x2="450.3" y2="142.3"/>
</g>
<g stroke="#bcbcbc" stroke-width="0.8">
<line x1="265.5" y1="140.3" x2="265.5" y2="244.5"/>
<line x1="460.5" y1="140.3" x2="460.5" y2="244.5"/>
<line x1="262.5" y1="241.5" x2="463.5" y2="241.5"/>
<line x1="265.5" y1="241.5" x2="265.5" y2="244.5"/>
<line x1="288.6" y1="241.5" x2="288.6" y2="244.5"/>
<line x1="311.7" y1="241.5" x2="311.7" y2="244.5"/>
<line x1="334.8" y1="241.5" x2="334.8" y2="244.5"/>
<line x1="357.9" y1="241.5" x2="357.9" y2="244.5"/>
<line x1="381.0" y1="241.5" x2="381.0" y2="244.5"/>
<line x1="404.1" y1="241.5" x2="404.1" y2="244.5"/>
<line x1="427.2" y1="241.5" x2="427.2" y2="244.5"/>
<line x1="450.3" y1="241.5" x2="450.3" y2="244.5"/>
<line x1="262.5" y1="241.5" x2="265.5" y2="241.5"/>
<line x1="262.5" y1="208.4" x2="265.5" y2="208.4"/>
<line x1="262.5" y1="175.4" x2="265.5" y2="175.4"/>
<line x1="262.5" y1="142.3" x2="265.5" y2="142.3"/>
</g>
<g stroke="#d0d0f0" stroke-width="0.7">
<line x1="460.5" y1="241.5" x2="463.0" y2="241.5"/>
<line x1="460.5" y1="208.4" x2="463.0" y2="208.4"/>
<line x1="460.5" y1="175.4" x2="463.0" y2="175.4"/>
<line x1="460.5" y1="142.3" x2="463.0" y2="142.3"/>
</g>
<g fill="none" stroke="#000" stroke-width="1.15">
<path d="M265.5,241.5 C265.8,241.5 266.7,241.4 267.3,241.3 C268.0,241.2 268.6,241.0 269.2,240.8 C269.8,240.6 270.4,240.3 271.0,240.0 C271.7,239.7 272.3,239.5 272.9,239.0 C273.5,238.4 274.1,237.5 274.7,236.7 C275.4,236.0 276.0,235.2 276.6,234.4 C277.2,233.6 277.8,232.9 278.4,232.1 C279.1,231.4 279.7,230.7 280.3,230.0 C280.9,229.2 281.5,228.3 282.1,227.4 C282.7,226.5 283.4,225.4 284.0,224.5 C284.6,223.6 285.2,222.8 285.8,222.0 C286.4,221.2 287.1,220.4 287.7,219.7 C288.3,218.9 288.9,218.3 289.5,217.5 C290.1,216.7 290.8,215.9 291.4,215.1 C292.0,214.3 292.6,213.5 293.2,212.8 C293.8,212.1 294.5,211.5 295.1,210.7 C295.7,209.9 296.3,208.9 296.9,207.9 C297.5,207.0 298.1,205.9 298.8,204.9 C299.4,203.9 300.0,202.8 300.6,202.1 C301.2,201.3 301.8,200.9 302.5,200.3 C303.1,199.6 303.7,199.0 304.3,198.4 C304.9,197.8 305.5,197.2 306.2,196.6 C306.8,196.0 307.4,195.4 308.0,194.8 C308.6,194.2 309.2,193.5 309.9,192.9 C310.5,192.3 311.1,191.7 311.7,191.0 C312.3,190.4 312.9,189.6 313.5,189.2 C314.2,188.7 314.8,188.7 315.4,188.5 C316.0,188.4 316.6,188.5 317.2,188.1 C317.9,187.7 318.5,187.0 319.1,186.3 C319.7,185.5 320.3,184.5 320.9,183.6 C321.6,182.6 322.2,181.7 322.8,180.8 C323.4,179.9 324.0,179.0 324.6,178.1 C325.3,177.2 325.9,176.3 326.5,175.3 C327.1,174.4 327.7,173.4 328.3,172.5 C328.9,171.5 329.6,170.6 330.2,169.6 C330.8,168.7 331.4,167.7 332.0,166.8 C332.6,165.9 333.3,164.7 333.9,164.0 C334.5,163.3 335.1,163.1 335.7,162.6 C336.3,162.1 337.0,161.5 337.6,161.0 C338.2,160.4 338.8,159.8 339.4,159.4 C340.0,159.0 340.7,158.8 341.3,158.6 C341.9,158.4 342.5,158.2 343.1,158.0 C343.7,157.9 344.3,157.7 345.0,157.6 C345.6,157.4 346.2,157.3 346.8,157.1 C347.4,157.0 348.0,156.8 348.7,156.7 C349.3,156.5 349.9,156.2 350.5,156.0 C351.1,155.8 351.7,155.6 352.4,155.4 C353.0,155.2 353.6,155.1 354.2,154.9 C354.8,154.7 355.4,154.6 356.1,154.3 C356.7,154.1 357.3,153.6 357.9,153.5 C358.5,153.4 359.1,153.7 359.7,153.8 C360.4,153.8 361.0,153.9 361.6,154.1 C362.2,154.2 362.8,154.3 363.4,154.4 C364.1,154.6 364.7,154.7 365.3,154.9 C365.9,155.1 366.5,155.2 367.1,155.5 C367.8,155.7 368.4,156.1 369.0,156.4 C369.6,156.8 370.2,157.2 370.8,157.5 C371.5,157.8 372.1,158.1 372.7,158.4 C373.3,158.7 373.9,159.1 374.5,159.4 C375.1,159.7 375.8,160.0 376.4,160.3 C377.0,160.6 377.6,160.9 378.2,161.2 C378.8,161.5 379.5,161.7 380.1,162.0 C380.7,162.3 381.3,162.5 381.9,162.8 C382.5,163.1 383.2,163.3 383.8,163.6 C384.4,163.9 385.0,164.1 385.6,164.4 C386.2,164.7 386.9,165.0 387.5,165.4 C388.1,165.8 388.7,166.4 389.3,166.9 C389.9,167.3 390.5,167.8 391.2,168.3 C391.8,168.8 392.4,169.3 393.0,169.8 C393.6,170.3 394.2,170.8 394.9,171.2 C395.5,171.7 396.1,172.2 396.7,172.7 C397.3,173.2 397.9,173.7 398.6,174.2 C399.2,174.7 399.8,175.1 400.4,175.6 C401.0,176.1 401.6,176.6 402.3,177.1 C402.9,177.6 403.5,178.1 404.1,178.6 C404.7,179.0 405.3,179.5 405.9,179.9 C406.6,180.3 407.2,180.7 407.8,181.1 C408.4,181.6 409.0,182.0 409.6,182.4 C410.3,182.8 410.9,183.2 411.5,183.7 C412.1,184.1 412.7,184.5 413.3,184.9 C414.0,185.4 414.6,185.8 415.2,186.2 C415.8,186.7 416.4,187.1 417.0,187.6 C417.7,188.0 418.3,188.5 418.9,188.9 C419.5,189.4 420.1,189.8 420.7,190.3 C421.3,190.8 422.0,191.2 422.6,191.7 C423.2,192.2 423.8,192.7 424.4,193.3 C425.0,193.8 425.7,194.3 426.3,194.8 C426.9,195.3 427.5,195.9 428.1,196.4 C428.7,197.0 429.4,197.5 430.0,198.1 C430.6,198.6 431.2,199.2 431.8,199.8 C432.4,200.3 433.1,200.9 433.7,201.5 C434.3,202.1 434.9,202.7 435.5,203.2 C436.1,203.8 436.7,204.3 437.4,204.8 C438.0,205.4 438.6,205.9 439.2,206.4 C439.8,206.9 440.4,207.4 441.1,207.9 C441.7,208.3 442.3,208.8 442.9,209.2 C443.5,209.6 444.1,210.1 444.8,210.5 C445.4,211.0 446.0,211.4 446.6,211.9 C447.2,212.3 447.8,212.8 448.5,213.2 C449.1,213.7 449.7,214.1 450.3,214.6 C450.9,215.0 451.5,215.5 452.1,215.9 C452.8,216.4 453.4,216.8 454.0,217.3 C454.6,217.7 455.2,218.2 455.8,218.6 C456.5,219.1 457.1,219.5 457.7,220.0 C458.3,220.4 459.2,221.1 459.5,221.3"/>
<path d="M265.5,241.5 C265.8,241.2 266.7,240.4 267.3,239.9 C268.0,239.4 268.6,238.9 269.2,238.5 C269.8,238.1 270.4,237.7 271.0,237.5 C271.7,237.2 272.3,237.1 272.9,236.8 C273.5,236.4 274.1,235.8 274.7,235.4 C275.4,235.0 276.0,234.6 276.6,234.2 C277.2,233.8 277.8,233.5 278.4,233.2 C279.1,232.9 279.7,232.7 280.3,232.4 C280.9,232.0 281.5,231.6 282.1,231.1 C282.7,230.6 283.4,229.9 284.0,229.2 C284.6,228.6 285.2,228.1 285.8,227.4 C286.4,226.8 287.1,226.3 287.7,225.5 C288.3,224.8 288.9,223.7 289.5,222.7 C290.1,221.7 290.8,220.6 291.4,219.5 C292.0,218.4 292.6,217.4 293.2,216.3 C293.8,215.2 294.5,214.2 295.1,213.0 C295.7,211.8 296.3,210.5 296.9,209.2 C297.5,207.9 298.1,206.6 298.8,205.4 C299.4,204.2 300.0,202.9 300.6,202.1 C301.2,201.2 301.8,200.9 302.5,200.3 C303.1,199.6 303.7,199.0 304.3,198.4 C304.9,197.8 305.5,197.2 306.2,196.6 C306.8,196.0 307.4,195.4 308.0,194.8 C308.6,194.2 309.2,193.6 309.9,192.9 C310.5,192.3 311.1,191.6 311.7,190.9 C312.3,190.2 312.9,189.2 313.5,188.7 C314.2,188.1 314.8,188.0 315.4,187.6 C316.0,187.2 316.6,187.1 317.2,186.6 C317.9,186.0 318.5,185.1 319.1,184.1 C319.7,183.1 320.3,181.9 320.9,180.8 C321.6,179.7 322.2,178.6 322.8,177.4 C323.4,176.3 324.0,175.2 324.6,174.1 C325.3,173.0 325.9,171.9 326.5,170.8 C327.1,169.7 327.7,168.7 328.3,167.7 C328.9,166.7 329.6,165.6 330.2,164.6 C330.8,163.6 331.4,162.5 332.0,161.7 C332.6,160.8 333.3,160.0 333.9,159.5 C334.5,158.9 335.1,158.8 335.7,158.5 C336.3,158.1 337.0,157.8 337.6,157.5 C338.2,157.2 338.8,156.8 339.4,156.6 C340.0,156.4 340.7,156.3 341.3,156.3 C341.9,156.2 342.5,156.2 343.1,156.2 C343.7,156.2 344.3,156.2 345.0,156.2 C345.6,156.2 346.2,156.2 346.8,156.2 C347.4,156.3 348.0,156.3 348.7,156.2 C349.3,156.2 349.9,156.1 350.5,156.0 C351.1,155.9 351.7,155.8 352.4,155.6 C353.0,155.5 353.6,155.3 354.2,155.2 C354.8,155.0 355.4,154.8 356.1,154.6 C356.7,154.4 357.3,153.9 357.9,153.8 C358.5,153.7 359.1,154.1 359.7,154.2 C360.4,154.3 361.0,154.5 361.6,154.7 C362.2,154.8 362.8,155.0 363.4,155.1 C364.1,155.3 364.7,155.4 365.3,155.5 C365.9,155.6 366.5,155.7 367.1,155.9 C367.8,156.1 368.4,156.3 369.0,156.6 C369.6,156.9 370.2,157.2 370.8,157.5 C371.5,157.8 372.1,158.1 372.7,158.4 C373.3,158.7 373.9,159.1 374.5,159.4 C375.1,159.7 375.8,160.0 376.4,160.3 C377.0,160.6 377.6,160.9 378.2,161.2 C378.8,161.5 379.5,161.7 380.1,162.0 C380.7,162.3 381.3,162.5 381.9,162.8 C382.5,163.1 383.2,163.3 383.8,163.6 C384.4,163.9 385.0,164.1 385.6,164.4 C386.2,164.7 386.9,164.9 387.5,165.3 C388.1,165.7 388.7,166.2 389.3,166.6 C389.9,167.0 390.5,167.5 391.2,167.9 C391.8,168.3 392.4,168.8 393.0,169.2 C393.6,169.6 394.2,170.0 394.9,170.5 C395.5,170.9 396.1,171.3 396.7,171.7 C397.3,172.2 397.9,172.6 398.6,173.0 C399.2,173.4 399.8,173.8 400.4,174.3 C401.0,174.7 401.6,175.1 402.3,175.6 C402.9,176.0 403.5,176.4 404.1,176.9 C404.7,177.3 405.3,177.7 405.9,178.2 C406.6,178.6 407.2,179.1 407.8,179.5 C408.4,180.0 409.0,180.5 409.6,180.9 C410.3,181.4 410.9,181.8 411.5,182.3 C412.1,182.8 412.7,183.3 413.3,183.7 C414.0,184.2 414.6,184.7 415.2,185.2 C415.8,185.7 416.4,186.2 417.0,186.7 C417.7,187.2 418.3,187.7 418.9,188.2 C419.5,188.8 420.1,189.3 420.7,189.8 C421.3,190.3 422.0,190.9 422.6,191.4 C423.2,191.9 423.8,192.5 424.4,193.1 C425.0,193.6 425.7,194.2 426.3,194.8 C426.9,195.3 427.5,195.9 428.1,196.5 C428.7,197.0 429.4,197.6 430.0,198.2 C430.6,198.8 431.2,199.4 431.8,200.0 C432.4,200.5 433.1,201.1 433.7,201.7 C434.3,202.3 434.9,202.9 435.5,203.4 C436.1,204.0 436.7,204.5 437.4,205.0 C438.0,205.5 438.6,206.0 439.2,206.5 C439.8,207.0 440.4,207.4 441.1,207.9 C441.7,208.3 442.3,208.8 442.9,209.2 C443.5,209.6 444.1,210.1 444.8,210.5 C445.4,211.0 446.0,211.4 446.6,211.9 C447.2,212.3 447.8,212.8 448.5,213.2 C449.1,213.7 449.7,214.1 450.3,214.6 C450.9,215.0 451.5,215.5 452.1,215.9 C452.8,216.4 453.4,216.8 454.0,217.3 C454.6,217.7 455.2,218.2 455.8,218.6 C456.5,219.1 457.1,219.5 457.7,220.0 C458.3,220.4 459.2,221.1 459.5,221.3"/>
<path d="M265.5,241.5 C265.8,241.4 266.7,241.2 267.3,241.0 C268.0,240.9 268.6,240.8 269.2,240.8 C269.8,240.7 270.4,240.7 271.0,240.7 C271.7,240.7 272.3,240.9 272.9,240.7 C273.5,240.5 274.1,239.9 274.7,239.5 C275.4,239.1 276.0,238.6 276.6,238.1 C277.2,237.6 277.8,237.1 278.4,236.6 C279.1,236.0 279.7,235.6 280.3,234.9 C280.9,234.3 281.5,233.4 282.1,232.5 C282.7,231.6 283.4,230.4 284.0,229.3 C284.6,228.2 285.2,227.1 285.8,226.0 C286.4,224.9 287.1,223.8 287.7,222.7 C288.3,221.6 288.9,220.5 289.5,219.3 C290.1,218.0 290.8,216.7 291.4,215.4 C292.0,214.1 292.6,212.8 293.2,211.6 C293.8,210.4 294.5,209.4 295.1,208.3 C295.7,207.2 296.3,205.9 296.9,204.7 C297.5,203.5 298.1,202.2 298.8,201.0 C299.4,199.9 300.0,198.7 300.6,197.8 C301.2,196.9 301.8,196.4 302.5,195.7 C303.1,195.0 303.7,194.3 304.3,193.6 C304.9,193.0 305.5,192.3 306.2,191.6 C306.8,191.0 307.4,190.3 308.0,189.7 C308.6,189.1 309.2,188.4 309.9,187.8 C310.5,187.2 311.1,186.5 311.7,185.9 C312.3,185.3 312.9,184.7 313.5,184.1 C314.2,183.6 314.8,183.2 315.4,182.7 C316.0,182.3 316.6,182.0 317.2,181.4 C317.9,180.8 318.5,180.0 319.1,179.1 C319.7,178.2 320.3,177.2 320.9,176.2 C321.6,175.3 322.2,174.4 322.8,173.4 C323.4,172.5 324.0,171.6 324.6,170.7 C325.3,169.8 325.9,169.0 326.5,168.1 C327.1,167.3 327.7,166.6 328.3,165.8 C328.9,165.1 329.6,164.3 330.2,163.5 C330.8,162.8 331.4,161.9 332.0,161.3 C332.6,160.6 333.3,160.0 333.9,159.7 C334.5,159.3 335.1,159.3 335.7,159.1 C336.3,158.9 337.0,158.7 337.6,158.5 C338.2,158.3 338.8,157.9 339.4,157.8 C340.0,157.7 340.7,157.7 341.3,157.7 C341.9,157.7 342.5,157.7 343.1,157.8 C343.7,157.8 344.3,157.8 345.0,157.9 C345.6,157.9 346.2,158.0 346.8,157.9 C347.4,157.9 348.0,157.9 348.7,157.8 C349.3,157.6 349.9,157.4 350.5,157.2 C351.1,157.0 351.7,156.7 352.4,156.5 C353.0,156.2 353.6,156.0 354.2,155.7 C354.8,155.4 355.4,155.2 356.1,154.9 C356.7,154.6 357.3,154.1 357.9,154.0 C358.5,153.9 359.1,154.2 359.7,154.3 C360.4,154.4 361.0,154.5 361.6,154.6 C362.2,154.7 362.8,154.8 363.4,154.9 C364.1,155.0 364.7,155.0 365.3,155.1 C365.9,155.2 366.5,155.2 367.1,155.3 C367.8,155.5 368.4,155.7 369.0,155.9 C369.6,156.0 370.2,156.3 370.8,156.5 C371.5,156.7 372.1,156.9 372.7,157.1 C373.3,157.3 373.9,157.5 374.5,157.8 C375.1,158.0 375.8,158.3 376.4,158.5 C377.0,158.8 377.6,159.0 378.2,159.3 C378.8,159.5 379.5,159.8 380.1,160.0 C380.7,160.2 381.3,160.5 381.9,160.8 C382.5,161.0 383.2,161.3 383.8,161.6 C384.4,161.9 385.0,162.1 385.6,162.4 C386.2,162.8 386.9,163.1 387.5,163.5 C388.1,163.9 388.7,164.3 389.3,164.8 C389.9,165.2 390.5,165.7 391.2,166.1 C391.8,166.6 392.4,167.0 393.0,167.4 C393.6,167.9 394.2,168.3 394.9,168.8 C395.5,169.3 396.1,169.7 396.7,170.2 C397.3,170.6 397.9,171.1 398.6,171.6 C399.2,172.1 399.8,172.5 400.4,173.0 C401.0,173.5 401.6,174.0 402.3,174.5 C402.9,175.0 403.5,175.4 404.1,175.9 C404.7,176.4 405.3,176.9 405.9,177.4 C406.6,178.0 407.2,178.5 407.8,179.0 C408.4,179.5 409.0,180.0 409.6,180.5 C410.3,181.1 410.9,181.6 411.5,182.1 C412.1,182.6 412.7,183.2 413.3,183.7 C414.0,184.2 414.6,184.8 415.2,185.3 C415.8,185.9 416.4,186.4 417.0,186.9 C417.7,187.5 418.3,188.0 418.9,188.6 C419.5,189.1 420.1,189.7 420.7,190.2 C421.3,190.8 422.0,191.3 422.6,191.9 C423.2,192.4 423.8,193.0 424.4,193.6 C425.0,194.1 425.7,194.7 426.3,195.3 C426.9,195.8 427.5,196.4 428.1,197.0 C428.7,197.5 429.4,198.1 430.0,198.6 C430.6,199.2 431.2,199.7 431.8,200.3 C432.4,200.8 433.1,201.4 433.7,201.9 C434.3,202.5 434.9,203.0 435.5,203.5 C436.1,204.0 436.7,204.4 437.4,204.9 C438.0,205.4 438.6,205.8 439.2,206.3 C439.8,206.7 440.4,207.2 441.1,207.6 C441.7,208.1 442.3,208.5 442.9,208.9 C443.5,209.4 444.1,209.8 444.8,210.2 C445.4,210.6 446.0,211.0 446.6,211.4 C447.2,211.8 447.8,212.2 448.5,212.6 C449.1,213.0 449.7,213.4 450.3,213.8 C450.9,214.2 451.5,214.6 452.1,215.0 C452.8,215.3 453.4,215.7 454.0,216.1 C454.6,216.5 455.2,216.8 455.8,217.2 C456.5,217.6 457.1,217.9 457.7,218.3 C458.3,218.6 459.2,219.2 459.5,219.4"/>
<path d="M265.5,241.5 C265.8,241.3 266.7,240.6 267.3,240.1 C268.0,239.6 268.6,239.0 269.2,238.5 C269.8,237.9 270.4,237.3 271.0,236.7 C271.7,236.0 272.3,235.5 272.9,234.7 C273.5,233.9 274.1,232.8 274.7,231.8 C275.4,230.8 276.0,229.7 276.6,228.7 C277.2,227.7 277.8,226.7 278.4,225.7 C279.1,224.7 279.7,223.7 280.3,222.6 C280.9,221.5 281.5,220.3 282.1,219.1 C282.7,217.9 283.4,216.4 284.0,215.3 C284.6,214.1 285.2,213.2 285.8,212.1 C286.4,211.1 287.1,210.1 287.7,209.1 C288.3,208.1 288.9,207.2 289.5,206.2 C290.1,205.2 290.8,204.1 291.4,203.2 C292.0,202.2 292.6,201.1 293.2,200.5 C293.8,199.9 294.5,199.9 295.1,199.5 C295.7,199.1 296.3,198.7 296.9,198.0 C297.5,197.4 298.1,196.5 298.8,195.8 C299.4,195.1 300.0,194.3 300.6,193.8 C301.2,193.2 301.8,192.9 302.5,192.4 C303.1,192.0 303.7,191.5 304.3,191.1 C304.9,190.6 305.5,190.2 306.2,189.7 C306.8,189.3 307.4,188.9 308.0,188.4 C308.6,188.0 309.2,187.6 309.9,187.1 C310.5,186.7 311.1,186.2 311.7,185.8 C312.3,185.3 312.9,184.8 313.5,184.4 C314.2,184.1 314.8,183.8 315.4,183.5 C316.0,183.2 316.6,183.2 317.2,182.8 C317.9,182.3 318.5,181.7 319.1,181.0 C319.7,180.3 320.3,179.4 320.9,178.6 C321.6,177.8 322.2,177.0 322.8,176.1 C323.4,175.3 324.0,174.5 324.6,173.7 C325.3,172.9 325.9,172.1 326.5,171.3 C327.1,170.5 327.7,169.7 328.3,168.9 C328.9,168.1 329.6,167.3 330.2,166.5 C330.8,165.6 331.4,164.7 332.0,163.9 C332.6,163.2 333.3,162.2 333.9,161.7 C334.5,161.2 335.1,161.1 335.7,160.7 C336.3,160.4 337.0,160.1 337.6,159.7 C338.2,159.3 338.8,158.9 339.4,158.6 C340.0,158.4 340.7,158.3 341.3,158.1 C341.9,158.0 342.5,157.9 343.1,157.8 C343.7,157.7 344.3,157.6 345.0,157.5 C345.6,157.4 346.2,157.3 346.8,157.2 C347.4,157.0 348.0,156.8 348.7,156.6 C349.3,156.4 349.9,156.1 350.5,155.9 C351.1,155.7 351.7,155.4 352.4,155.2 C353.0,155.0 353.6,154.8 354.2,154.6 C354.8,154.4 355.4,154.3 356.1,154.1 C356.7,153.8 357.3,153.3 357.9,153.1 C358.5,153.0 359.1,153.1 359.7,153.1 C360.4,153.0 361.0,153.0 361.6,152.9 C362.2,152.9 362.8,152.8 363.4,152.7 C364.1,152.7 364.7,152.5 365.3,152.5 C365.9,152.5 366.5,152.5 367.1,152.5 C367.8,152.6 368.4,152.7 369.0,152.8 C369.6,153.0 370.2,153.1 370.8,153.3 C371.5,153.4 372.1,153.5 372.7,153.7 C373.3,153.9 373.9,154.1 374.5,154.3 C375.1,154.6 375.8,155.1 376.4,155.4 C377.0,155.8 377.6,156.2 378.2,156.5 C378.8,156.9 379.5,157.3 380.1,157.6 C380.7,158.0 381.3,158.4 381.9,158.8 C382.5,159.2 383.2,159.6 383.8,160.0 C384.4,160.4 385.0,160.8 385.6,161.2 C386.2,161.6 386.9,162.0 387.5,162.5 C388.1,163.0 388.7,163.5 389.3,164.0 C389.9,164.5 390.5,165.0 391.2,165.5 C391.8,166.0 392.4,166.5 393.0,167.0 C393.6,167.5 394.2,168.0 394.9,168.5 C395.5,169.0 396.1,169.5 396.7,170.1 C397.3,170.6 397.9,171.1 398.6,171.6 C399.2,172.2 399.8,172.7 400.4,173.2 C401.0,173.7 401.6,174.3 402.3,174.8 C402.9,175.3 403.5,175.9 404.1,176.4 C404.7,176.9 405.3,177.5 405.9,178.0 C406.6,178.5 407.2,179.1 407.8,179.6 C408.4,180.1 409.0,180.7 409.6,181.2 C410.3,181.7 410.9,182.3 411.5,182.8 C412.1,183.3 412.7,183.9 413.3,184.4 C414.0,184.9 414.6,185.4 415.2,186.0 C415.8,186.5 416.4,187.0 417.0,187.5 C417.7,188.1 418.3,188.6 418.9,189.1 C419.5,189.6 420.1,190.1 420.7,190.6 C421.3,191.1 422.0,191.6 422.6,192.1 C423.2,192.6 423.8,193.1 424.4,193.6 C425.0,194.2 425.7,194.7 426.3,195.2 C426.9,195.7 427.5,196.2 428.1,196.7 C428.7,197.1 429.4,197.6 430.0,198.1 C430.6,198.6 431.2,199.1 431.8,199.5 C432.4,200.0 433.1,200.5 433.7,200.9 C434.3,201.4 434.9,201.9 435.5,202.3 C436.1,202.7 436.7,203.1 437.4,203.5 C438.0,203.9 438.6,204.2 439.2,204.6 C439.8,205.0 440.4,205.4 441.1,205.8 C441.7,206.1 442.3,206.5 442.9,206.9 C443.5,207.3 444.1,207.6 444.8,208.0 C445.4,208.4 446.0,208.7 446.6,209.1 C447.2,209.5 447.8,209.8 448.5,210.2 C449.1,210.6 449.7,210.9 450.3,211.3 C450.9,211.7 451.5,212.0 452.1,212.4 C452.8,212.7 453.4,213.1 454.0,213.5 C454.6,213.9 455.2,214.2 455.8,214.6 C456.5,215.0 457.1,215.3 457.7,215.7 C458.3,216.1 459.2,216.7 459.5,216.9"/>
<path d="M265.5,241.5 C265.8,240.9 266.7,239.1 267.3,237.9 C268.0,236.7 268.6,235.5 269.2,234.4 C269.8,233.2 270.4,232.1 271.0,231.1 C271.7,230.1 272.3,229.2 272.9,228.2 C273.5,227.2 274.1,226.1 274.7,225.1 C275.4,224.1 276.0,223.2 276.6,222.3 C277.2,221.4 277.8,220.6 278.4,219.8 C279.1,219.0 279.7,218.2 280.3,217.4 C280.9,216.6 281.5,215.8 282.1,215.0 C282.7,214.2 283.4,213.2 284.0,212.4 C284.6,211.7 285.2,211.2 285.8,210.6 C286.4,210.1 287.1,209.5 287.7,208.9 C288.3,208.3 288.9,207.7 289.5,207.1 C290.1,206.5 290.8,205.8 291.4,205.1 C292.0,204.5 292.6,203.7 293.2,203.2 C293.8,202.8 294.5,202.9 295.1,202.5 C295.7,202.1 296.3,201.7 296.9,201.0 C297.5,200.4 298.1,199.5 298.8,198.7 C299.4,198.0 300.0,197.1 300.6,196.6 C301.2,196.0 301.8,195.7 302.5,195.2 C303.1,194.8 303.7,194.3 304.3,193.9 C304.9,193.4 305.5,192.9 306.2,192.4 C306.8,191.9 307.4,191.4 308.0,190.9 C308.6,190.4 309.2,189.9 309.9,189.4 C310.5,188.8 311.1,188.3 311.7,187.7 C312.3,187.2 312.9,186.5 313.5,186.1 C314.2,185.6 314.8,185.4 315.4,185.0 C316.0,184.7 316.6,184.6 317.2,184.1 C317.9,183.6 318.5,182.8 319.1,181.9 C319.7,181.1 320.3,179.9 320.9,178.9 C321.6,177.9 322.2,176.9 322.8,175.9 C323.4,174.8 324.0,173.8 324.6,172.8 C325.3,171.7 325.9,170.7 326.5,169.6 C327.1,168.6 327.7,167.6 328.3,166.6 C328.9,165.6 329.6,164.6 330.2,163.6 C330.8,162.5 331.4,161.4 332.0,160.5 C332.6,159.6 333.3,158.9 333.9,158.3 C334.5,157.7 335.1,157.5 335.7,157.1 C336.3,156.7 337.0,156.3 337.6,155.9 C338.2,155.5 338.8,155.1 339.4,154.8 C340.0,154.5 340.7,154.3 341.3,154.1 C341.9,153.9 342.5,153.7 343.1,153.6 C343.7,153.4 344.3,153.3 345.0,153.1 C345.6,153.0 346.2,152.8 346.8,152.7 C347.4,152.6 348.0,152.5 348.7,152.5 C349.3,152.4 349.9,152.4 350.5,152.5 C351.1,152.5 351.7,152.5 352.4,152.6 C353.0,152.6 353.6,152.7 354.2,152.7 C354.8,152.8 355.4,153.0 356.1,152.9 C356.7,152.8 357.3,152.3 357.9,152.1 C358.5,151.9 359.1,151.9 359.7,151.7 C360.4,151.6 361.0,151.5 361.6,151.4 C362.2,151.2 362.8,151.1 363.4,151.0 C364.1,150.9 364.7,150.7 365.3,150.7 C365.9,150.7 366.5,150.8 367.1,150.9 C367.8,151.0 368.4,151.2 369.0,151.4 C369.6,151.6 370.2,151.8 370.8,152.0 C371.5,152.2 372.1,152.4 372.7,152.6 C373.3,152.9 373.9,153.2 374.5,153.6 C375.1,154.0 375.8,154.5 376.4,155.0 C377.0,155.5 377.6,155.9 378.2,156.4 C378.8,156.9 379.5,157.3 380.1,157.7 C380.7,158.2 381.3,158.6 381.9,159.1 C382.5,159.5 383.2,160.0 383.8,160.4 C384.4,160.8 385.0,161.3 385.6,161.7 C386.2,162.1 386.9,162.6 387.5,163.1 C388.1,163.5 388.7,164.1 389.3,164.6 C389.9,165.1 390.5,165.7 391.2,166.2 C391.8,166.7 392.4,167.2 393.0,167.7 C393.6,168.2 394.2,168.8 394.9,169.3 C395.5,169.8 396.1,170.3 396.7,170.8 C397.3,171.3 397.9,171.9 398.6,172.4 C399.2,172.9 399.8,173.4 400.4,173.9 C401.0,174.4 401.6,174.9 402.3,175.4 C402.9,175.9 403.5,176.4 404.1,176.9 C404.7,177.4 405.3,177.9 405.9,178.4 C406.6,178.9 407.2,179.3 407.8,179.8 C408.4,180.3 409.0,180.8 409.6,181.3 C410.3,181.7 410.9,182.2 411.5,182.7 C412.1,183.1 412.7,183.6 413.3,184.1 C414.0,184.5 414.6,185.0 415.2,185.4 C415.8,185.9 416.4,186.4 417.0,186.8 C417.7,187.2 418.3,187.7 418.9,188.1 C419.5,188.6 420.1,189.0 420.7,189.4 C421.3,189.9 422.0,190.3 422.6,190.7 C423.2,191.2 423.8,191.6 424.4,192.1 C425.0,192.5 425.7,192.9 426.3,193.4 C426.9,193.8 427.5,194.2 428.1,194.6 C428.7,195.1 429.4,195.5 430.0,195.9 C430.6,196.3 431.2,196.8 431.8,197.2 C432.4,197.6 433.1,198.0 433.7,198.5 C434.3,198.9 434.9,199.3 435.5,199.7 C436.1,200.1 436.7,200.4 437.4,200.8 C438.0,201.2 438.6,201.5 439.2,201.9 C439.8,202.3 440.4,202.7 441.1,203.0 C441.7,203.4 442.3,203.8 442.9,204.2 C443.5,204.6 444.1,205.0 444.8,205.4 C445.4,205.7 446.0,206.1 446.6,206.5 C447.2,206.9 447.8,207.3 448.5,207.7 C449.1,208.1 449.7,208.5 450.3,209.0 C450.9,209.4 451.5,209.8 452.1,210.2 C452.8,210.6 453.4,211.0 454.0,211.5 C454.6,211.9 455.2,212.3 455.8,212.8 C456.5,213.2 457.1,213.7 457.7,214.1 C458.3,214.6 459.2,215.2 459.5,215.5"/>
<path d="M265.5,241.5 C265.8,241.0 266.7,239.5 267.3,238.6 C268.0,237.7 268.6,236.8 269.2,236.0 C269.8,235.2 270.4,234.4 271.0,233.8 C271.7,233.1 272.3,232.7 272.9,232.0 C273.5,231.3 274.1,230.5 274.7,229.7 C275.4,229.0 276.0,228.3 276.6,227.6 C277.2,226.9 277.8,226.3 278.4,225.6 C279.1,225.0 279.7,224.4 280.3,223.7 C280.9,223.0 281.5,222.2 282.1,221.3 C282.7,220.5 283.4,219.4 284.0,218.6 C284.6,217.7 285.2,217.0 285.8,216.2 C286.4,215.4 287.1,214.5 287.7,213.7 C288.3,212.8 288.9,212.0 289.5,211.1 C290.1,210.2 290.8,209.1 291.4,208.2 C292.0,207.2 292.6,206.1 293.2,205.3 C293.8,204.5 294.5,204.1 295.1,203.4 C295.7,202.7 296.3,202.0 296.9,201.1 C297.5,200.2 298.1,199.1 298.8,198.1 C299.4,197.2 300.0,196.2 300.6,195.5 C301.2,194.7 301.8,194.2 302.5,193.6 C303.1,193.0 303.7,192.4 304.3,191.7 C304.9,191.1 305.5,190.5 306.2,189.8 C306.8,189.2 307.4,188.6 308.0,188.0 C308.6,187.3 309.2,186.7 309.9,186.1 C310.5,185.4 311.1,184.8 311.7,184.2 C312.3,183.6 312.9,182.9 313.5,182.3 C314.2,181.7 314.8,181.1 315.4,180.4 C316.0,179.8 316.6,179.3 317.2,178.4 C317.9,177.6 318.5,176.6 319.1,175.6 C319.7,174.5 320.3,173.3 320.9,172.1 C321.6,171.0 322.2,169.9 322.8,168.7 C323.4,167.6 324.0,166.4 324.6,165.3 C325.3,164.2 325.9,163.0 326.5,162.0 C327.1,161.0 327.7,160.1 328.3,159.2 C328.9,158.3 329.6,157.4 330.2,156.5 C330.8,155.6 331.4,154.4 332.0,153.8 C332.6,153.2 333.3,153.1 333.9,152.8 C334.5,152.6 335.1,152.4 335.7,152.2 C336.3,152.0 337.0,151.9 337.6,151.7 C338.2,151.5 338.8,151.3 339.4,151.2 C340.0,151.0 340.7,150.9 341.3,150.8 C341.9,150.7 342.5,150.7 343.1,150.6 C343.7,150.6 344.3,150.6 345.0,150.6 C345.6,150.6 346.2,150.6 346.8,150.6 C347.4,150.6 348.0,150.7 348.7,150.8 C349.3,151.0 349.9,151.2 350.5,151.4 C351.1,151.6 351.7,151.8 352.4,152.0 C353.0,152.2 353.6,152.3 354.2,152.5 C354.8,152.6 355.4,152.9 356.1,152.8 C356.7,152.8 357.3,152.3 357.9,152.2 C358.5,152.0 359.1,152.0 359.7,151.9 C360.4,151.8 361.0,151.8 361.6,151.7 C362.2,151.7 362.8,151.6 363.4,151.6 C364.1,151.5 364.7,151.5 365.3,151.5 C365.9,151.5 366.5,151.7 367.1,151.9 C367.8,152.0 368.4,152.3 369.0,152.5 C369.6,152.8 370.2,153.0 370.8,153.3 C371.5,153.6 372.1,153.8 372.7,154.1 C373.3,154.4 373.9,154.7 374.5,155.1 C375.1,155.5 375.8,156.0 376.4,156.4 C377.0,156.8 377.6,157.2 378.2,157.7 C378.8,158.1 379.5,158.4 380.1,158.8 C380.7,159.2 381.3,159.6 381.9,160.0 C382.5,160.3 383.2,160.7 383.8,161.1 C384.4,161.5 385.0,161.8 385.6,162.2 C386.2,162.6 386.9,162.9 387.5,163.4 C388.1,163.8 388.7,164.3 389.3,164.8 C389.9,165.3 390.5,165.7 391.2,166.2 C391.8,166.7 392.4,167.1 393.0,167.6 C393.6,168.1 394.2,168.5 394.9,169.0 C395.5,169.4 396.1,169.9 396.7,170.3 C397.3,170.8 397.9,171.2 398.6,171.7 C399.2,172.1 399.8,172.6 400.4,173.0 C401.0,173.4 401.6,173.9 402.3,174.3 C402.9,174.7 403.5,175.2 404.1,175.6 C404.7,176.0 405.3,176.5 405.9,176.9 C406.6,177.3 407.2,177.7 407.8,178.2 C408.4,178.6 409.0,179.0 409.6,179.4 C410.3,179.8 410.9,180.3 411.5,180.7 C412.1,181.1 412.7,181.5 413.3,181.9 C414.0,182.3 414.6,182.8 415.2,183.2 C415.8,183.6 416.4,184.0 417.0,184.4 C417.7,184.8 418.3,185.3 418.9,185.7 C419.5,186.1 420.1,186.5 420.7,186.9 C421.3,187.3 422.0,187.8 422.6,188.2 C423.2,188.6 423.8,189.0 424.4,189.5 C425.0,189.9 425.7,190.3 426.3,190.8 C426.9,191.2 427.5,191.7 428.1,192.1 C428.7,192.5 429.4,193.0 430.0,193.4 C430.6,193.9 431.2,194.3 431.8,194.8 C432.4,195.2 433.1,195.7 433.7,196.2 C434.3,196.6 434.9,197.1 435.5,197.5 C436.1,198.0 436.7,198.4 437.4,198.8 C438.0,199.2 438.6,199.7 439.2,200.1 C439.8,200.6 440.4,201.0 441.1,201.4 C441.7,201.9 442.3,202.4 442.9,202.8 C443.5,203.3 444.1,203.7 444.8,204.2 C445.4,204.7 446.0,205.1 446.6,205.6 C447.2,206.1 447.8,206.5 448.5,207.0 C449.1,207.5 449.7,208.0 450.3,208.5 C450.9,208.9 451.5,209.4 452.1,209.9 C452.8,210.4 453.4,210.9 454.0,211.4 C454.6,211.9 455.2,212.4 455.8,212.9 C456.5,213.4 457.1,213.9 457.7,214.4 C458.3,214.9 459.2,215.7 459.5,215.9"/>
<path d="M265.5,241.5 C265.8,241.0 266.7,239.7 267.3,238.7 C268.0,237.8 268.6,236.8 269.2,235.8 C269.8,234.9 270.4,233.9 271.0,233.0 C271.7,232.1 272.3,231.3 272.9,230.3 C273.5,229.2 274.1,228.0 274.7,226.8 C275.4,225.7 276.0,224.6 276.6,223.4 C277.2,222.3 277.8,221.2 278.4,220.1 C279.1,219.0 279.7,217.9 280.3,216.6 C280.9,215.4 281.5,214.2 282.1,212.9 C282.7,211.6 283.4,210.1 284.0,208.9 C284.6,207.7 285.2,206.8 285.8,205.7 C286.4,204.7 287.1,203.6 287.7,202.6 C288.3,201.5 288.9,200.5 289.5,199.4 C290.1,198.4 290.8,197.3 291.4,196.3 C292.0,195.3 292.6,194.0 293.2,193.4 C293.8,192.9 294.5,193.3 295.1,193.1 C295.7,192.9 296.3,192.8 296.9,192.4 C297.5,191.9 298.1,191.1 298.8,190.5 C299.4,189.9 300.0,189.3 300.6,188.8 C301.2,188.2 301.8,187.8 302.5,187.3 C303.1,186.7 303.7,186.2 304.3,185.7 C304.9,185.2 305.5,184.7 306.2,184.2 C306.8,183.7 307.4,183.2 308.0,182.7 C308.6,182.3 309.2,181.8 309.9,181.3 C310.5,180.8 311.1,180.4 311.7,179.9 C312.3,179.4 312.9,179.1 313.5,178.5 C314.2,178.0 314.8,177.2 315.4,176.5 C316.0,175.8 316.6,175.2 317.2,174.4 C317.9,173.7 318.5,172.8 319.1,171.8 C319.7,170.9 320.3,169.8 320.9,168.9 C321.6,167.9 322.2,166.9 322.8,165.9 C323.4,165.0 324.0,164.0 324.6,163.1 C325.3,162.1 325.9,161.2 326.5,160.4 C327.1,159.6 327.7,159.0 328.3,158.2 C328.9,157.5 329.6,156.8 330.2,156.1 C330.8,155.4 331.4,154.4 332.0,153.9 C332.6,153.5 333.3,153.5 333.9,153.4 C334.5,153.3 335.1,153.2 335.7,153.1 C336.3,153.1 337.0,153.0 337.6,152.8 C338.2,152.7 338.8,152.6 339.4,152.5 C340.0,152.4 340.7,152.4 341.3,152.3 C341.9,152.3 342.5,152.3 343.1,152.4 C343.7,152.4 344.3,152.4 345.0,152.5 C345.6,152.5 346.2,152.5 346.8,152.5 C347.4,152.6 348.0,152.6 348.7,152.7 C349.3,152.8 349.9,152.9 350.5,153.0 C351.1,153.1 351.7,153.1 352.4,153.2 C353.0,153.2 353.6,153.3 354.2,153.3 C354.8,153.3 355.4,153.5 356.1,153.3 C356.7,153.2 357.3,152.7 357.9,152.6 C358.5,152.4 359.1,152.5 359.7,152.4 C360.4,152.4 361.0,152.3 361.6,152.3 C362.2,152.2 362.8,152.2 363.4,152.1 C364.1,152.0 364.7,151.9 365.3,151.9 C365.9,151.9 366.5,152.0 367.1,152.1 C367.8,152.2 368.4,152.4 369.0,152.5 C369.6,152.7 370.2,152.9 370.8,153.0 C371.5,153.2 372.1,153.3 372.7,153.5 C373.3,153.7 373.9,153.9 374.5,154.2 C375.1,154.5 375.8,154.9 376.4,155.2 C377.0,155.6 377.6,156.0 378.2,156.3 C378.8,156.7 379.5,157.0 380.1,157.3 C380.7,157.7 381.3,158.0 381.9,158.4 C382.5,158.7 383.2,159.1 383.8,159.5 C384.4,159.8 385.0,160.2 385.6,160.6 C386.2,161.0 386.9,161.4 387.5,161.8 C388.1,162.2 388.7,162.6 389.3,163.1 C389.9,163.5 390.5,163.9 391.2,164.3 C391.8,164.8 392.4,165.2 393.0,165.6 C393.6,166.0 394.2,166.4 394.9,166.9 C395.5,167.3 396.1,167.7 396.7,168.1 C397.3,168.6 397.9,169.0 398.6,169.4 C399.2,169.8 399.8,170.3 400.4,170.7 C401.0,171.1 401.6,171.5 402.3,172.0 C402.9,172.4 403.5,172.8 404.1,173.3 C404.7,173.7 405.3,174.1 405.9,174.6 C406.6,175.0 407.2,175.4 407.8,175.9 C408.4,176.3 409.0,176.8 409.6,177.2 C410.3,177.7 410.9,178.1 411.5,178.5 C412.1,179.0 412.7,179.4 413.3,179.9 C414.0,180.4 414.6,180.8 415.2,181.3 C415.8,181.7 416.4,182.2 417.0,182.7 C417.7,183.1 418.3,183.6 418.9,184.1 C419.5,184.5 420.1,185.0 420.7,185.5 C421.3,186.0 422.0,186.4 422.6,186.9 C423.2,187.4 423.8,187.9 424.4,188.4 C425.0,188.9 425.7,189.4 426.3,189.9 C426.9,190.4 427.5,190.9 428.1,191.4 C428.7,191.9 429.4,192.4 430.0,193.0 C430.6,193.5 431.2,194.0 431.8,194.5 C432.4,195.0 433.1,195.6 433.7,196.1 C434.3,196.6 434.9,197.1 435.5,197.6 C436.1,198.1 436.7,198.6 437.4,199.1 C438.0,199.6 438.6,200.1 439.2,200.6 C439.8,201.1 440.4,201.6 441.1,202.1 C441.7,202.6 442.3,203.1 442.9,203.5 C443.5,204.0 444.1,204.5 444.8,205.0 C445.4,205.5 446.0,206.0 446.6,206.5 C447.2,207.0 447.8,207.5 448.5,208.0 C449.1,208.5 449.7,209.0 450.3,209.5 C450.9,210.0 451.5,210.5 452.1,211.0 C452.8,211.5 453.4,211.9 454.0,212.4 C454.6,212.9 455.2,213.4 455.8,213.9 C456.5,214.4 457.1,214.8 457.7,215.3 C458.3,215.8 459.2,216.5 459.5,216.7"/>
<path d="M265.5,241.5 C265.8,240.7 266.7,238.2 267.3,236.5 C268.0,234.9 268.6,233.2 269.2,231.6 C269.8,230.0 270.4,228.5 271.0,227.0 C271.7,225.6 272.3,224.3 272.9,222.9 C273.5,221.5 274.1,220.1 274.7,218.8 C275.4,217.4 276.0,216.2 276.6,215.0 C277.2,213.7 277.8,212.6 278.4,211.5 C279.1,210.3 279.7,209.1 280.3,208.0 C280.9,206.8 281.5,205.6 282.1,204.5 C282.7,203.3 283.4,202.0 284.0,201.0 C284.6,200.0 285.2,199.4 285.8,198.7 C286.4,197.9 287.1,197.1 287.7,196.3 C288.3,195.5 288.9,194.8 289.5,194.0 C290.1,193.2 290.8,192.4 291.4,191.7 C292.0,190.9 292.6,189.8 293.2,189.6 C293.8,189.4 294.5,190.1 295.1,190.3 C295.7,190.4 296.3,190.6 296.9,190.4 C297.5,190.3 298.1,189.7 298.8,189.4 C299.4,189.0 300.0,188.7 300.6,188.3 C301.2,188.0 301.8,187.6 302.5,187.3 C303.1,186.9 303.7,186.5 304.3,186.2 C304.9,185.8 305.5,185.4 306.2,185.1 C306.8,184.7 307.4,184.3 308.0,183.9 C308.6,183.5 309.2,183.1 309.9,182.8 C310.5,182.4 311.1,182.0 311.7,181.6 C312.3,181.2 312.9,180.8 313.5,180.3 C314.2,179.9 314.8,179.3 315.4,178.8 C316.0,178.2 316.6,177.8 317.2,177.2 C317.9,176.6 318.5,175.8 319.1,174.9 C319.7,174.1 320.3,173.0 320.9,172.1 C321.6,171.2 322.2,170.2 322.8,169.3 C323.4,168.4 324.0,167.4 324.6,166.5 C325.3,165.6 325.9,164.6 326.5,163.8 C327.1,162.9 327.7,162.2 328.3,161.4 C328.9,160.6 329.6,159.7 330.2,158.9 C330.8,158.1 331.4,157.0 332.0,156.4 C332.6,155.8 333.3,155.6 333.9,155.2 C334.5,154.9 335.1,154.8 335.7,154.6 C336.3,154.3 337.0,154.1 337.6,153.9 C338.2,153.6 338.8,153.3 339.4,153.1 C340.0,152.9 340.7,152.8 341.3,152.6 C341.9,152.5 342.5,152.4 343.1,152.3 C343.7,152.2 344.3,152.2 345.0,152.1 C345.6,152.0 346.2,151.9 346.8,151.8 C347.4,151.7 348.0,151.7 348.7,151.7 C349.3,151.7 349.9,151.8 350.5,151.8 C351.1,151.9 351.7,152.0 352.4,152.1 C353.0,152.2 353.6,152.3 354.2,152.4 C354.8,152.5 355.4,152.7 356.1,152.6 C356.7,152.5 357.3,152.1 357.9,151.9 C358.5,151.6 359.1,151.5 359.7,151.3 C360.4,151.1 361.0,150.9 361.6,150.7 C362.2,150.5 362.8,150.3 363.4,150.1 C364.1,149.9 364.7,149.5 365.3,149.4 C365.9,149.3 366.5,149.3 367.1,149.3 C367.8,149.3 368.4,149.4 369.0,149.5 C369.6,149.5 370.2,149.6 370.8,149.6 C371.5,149.7 372.1,149.7 372.7,149.8 C373.3,149.9 373.9,150.1 374.5,150.4 C375.1,150.7 375.8,151.3 376.4,151.8 C377.0,152.3 377.6,152.8 378.2,153.2 C378.8,153.7 379.5,154.2 380.1,154.6 C380.7,155.1 381.3,155.6 381.9,156.1 C382.5,156.5 383.2,157.0 383.8,157.5 C384.4,158.0 385.0,158.5 385.6,159.0 C386.2,159.5 386.9,159.9 387.5,160.4 C388.1,160.9 388.7,161.3 389.3,161.8 C389.9,162.2 390.5,162.7 391.2,163.2 C391.8,163.6 392.4,164.1 393.0,164.5 C393.6,165.0 394.2,165.5 394.9,165.9 C395.5,166.4 396.1,166.8 396.7,167.3 C397.3,167.8 397.9,168.2 398.6,168.7 C399.2,169.1 399.8,169.6 400.4,170.1 C401.0,170.5 401.6,171.0 402.3,171.4 C402.9,171.9 403.5,172.4 404.1,172.8 C404.7,173.3 405.3,173.7 405.9,174.2 C406.6,174.7 407.2,175.1 407.8,175.6 C408.4,176.1 409.0,176.6 409.6,177.1 C410.3,177.6 410.9,178.1 411.5,178.6 C412.1,179.1 412.7,179.6 413.3,180.1 C414.0,180.6 414.6,181.1 415.2,181.6 C415.8,182.1 416.4,182.7 417.0,183.2 C417.7,183.7 418.3,184.2 418.9,184.7 C419.5,185.2 420.1,185.7 420.7,186.2 C421.3,186.8 422.0,187.3 422.6,187.8 C423.2,188.3 423.8,188.8 424.4,189.3 C425.0,189.9 425.7,190.4 426.3,190.9 C426.9,191.4 427.5,192.0 428.1,192.5 C428.7,193.0 429.4,193.5 430.0,194.0 C430.6,194.6 431.2,195.1 431.8,195.6 C432.4,196.1 433.1,196.6 433.7,197.2 C434.3,197.7 434.9,198.2 435.5,198.7 C436.1,199.1 436.7,199.6 437.4,200.1 C438.0,200.5 438.6,201.0 439.2,201.4 C439.8,201.9 440.4,202.3 441.1,202.8 C441.7,203.2 442.3,203.7 442.9,204.1 C443.5,204.6 444.1,205.0 444.8,205.5 C445.4,205.9 446.0,206.3 446.6,206.8 C447.2,207.2 447.8,207.6 448.5,208.1 C449.1,208.5 449.7,208.9 450.3,209.3 C450.9,209.7 451.5,210.2 452.1,210.6 C452.8,211.0 453.4,211.4 454.0,211.8 C454.6,212.2 455.2,212.6 455.8,213.0 C456.5,213.4 457.1,213.8 457.7,214.2 C458.3,214.6 459.2,215.2 459.5,215.4"/>
<path d="M265.5,241.5 C265.8,240.7 266.7,238.2 267.3,236.5 C268.0,234.9 268.6,233.2 269.2,231.6 C269.8,230.0 270.4,228.5 271.0,227.0 C271.7,225.6 272.3,224.3 272.9,222.9 C273.5,221.5 274.1,220.0 274.7,218.8 C275.4,217.5 276.0,216.5 276.6,215.4 C277.2,214.4 277.8,213.5 278.4,212.6 C279.1,211.6 279.7,210.7 280.3,209.7 C280.9,208.8 281.5,207.9 282.1,207.0 C282.7,206.0 283.4,204.9 284.0,204.1 C284.6,203.3 285.2,202.9 285.8,202.3 C286.4,201.7 287.1,201.1 287.7,200.4 C288.3,199.8 288.9,199.2 289.5,198.5 C290.1,197.8 290.8,197.1 291.4,196.4 C292.0,195.8 292.6,194.8 293.2,194.5 C293.8,194.2 294.5,194.8 295.1,194.7 C295.7,194.7 296.3,194.6 296.9,194.3 C297.5,193.9 298.1,193.1 298.8,192.5 C299.4,192.0 300.0,191.4 300.6,190.9 C301.2,190.4 301.8,189.9 302.5,189.5 C303.1,189.0 303.7,188.5 304.3,188.0 C304.9,187.5 305.5,187.0 306.2,186.5 C306.8,186.0 307.4,185.5 308.0,185.0 C308.6,184.5 309.2,184.0 309.9,183.4 C310.5,182.9 311.1,182.4 311.7,181.9 C312.3,181.3 312.9,180.9 313.5,180.3 C314.2,179.7 314.8,179.0 315.4,178.3 C316.0,177.6 316.6,177.0 317.2,176.2 C317.9,175.3 318.5,174.3 319.1,173.3 C319.7,172.2 320.3,171.0 320.9,169.9 C321.6,168.7 322.2,167.6 322.8,166.5 C323.4,165.3 324.0,164.1 324.6,163.0 C325.3,161.9 325.9,160.7 326.5,159.7 C327.1,158.6 327.7,157.8 328.3,156.8 C328.9,155.9 329.6,155.0 330.2,154.0 C330.8,153.1 331.4,151.8 332.0,151.2 C332.6,150.7 333.3,150.8 333.9,150.7 C334.5,150.5 335.1,150.4 335.7,150.3 C336.3,150.1 337.0,150.0 337.6,149.9 C338.2,149.7 338.8,149.6 339.4,149.5 C340.0,149.3 340.7,149.2 341.3,149.1 C341.9,149.0 342.5,148.9 343.1,148.9 C343.7,148.8 344.3,148.8 345.0,148.8 C345.6,148.7 346.2,148.6 346.8,148.6 C347.4,148.7 348.0,148.7 348.7,148.9 C349.3,149.0 349.9,149.4 350.5,149.7 C351.1,149.9 351.7,150.2 352.4,150.5 C353.0,150.8 353.6,151.1 354.2,151.3 C354.8,151.6 355.4,152.0 356.1,152.0 C356.7,152.0 357.3,151.6 357.9,151.4 C358.5,151.1 359.1,150.9 359.7,150.7 C360.4,150.5 361.0,150.3 361.6,150.0 C362.2,149.8 362.8,149.6 363.4,149.4 C364.1,149.2 364.7,148.8 365.3,148.7 C365.9,148.6 366.5,148.7 367.1,148.8 C367.8,148.9 368.4,149.0 369.0,149.1 C369.6,149.2 370.2,149.3 370.8,149.4 C371.5,149.5 372.1,149.5 372.7,149.7 C373.3,149.9 373.9,150.0 374.5,150.4 C375.1,150.8 375.8,151.3 376.4,151.8 C377.0,152.3 377.6,152.8 378.2,153.2 C378.8,153.7 379.5,154.2 380.1,154.6 C380.7,155.1 381.3,155.6 381.9,156.1 C382.5,156.5 383.2,157.0 383.8,157.5 C384.4,158.0 385.0,158.5 385.6,159.0 C386.2,159.5 386.9,159.9 387.5,160.4 C388.1,160.9 388.7,161.3 389.3,161.8 C389.9,162.2 390.5,162.7 391.2,163.2 C391.8,163.7 392.4,164.2 393.0,164.7 C393.6,165.2 394.2,165.7 394.9,166.2 C395.5,166.7 396.1,167.2 396.7,167.7 C397.3,168.2 397.9,168.7 398.6,169.2 C399.2,169.7 399.8,170.2 400.4,170.7 C401.0,171.1 401.6,171.6 402.3,172.1 C402.9,172.6 403.5,173.1 404.1,173.6 C404.7,174.1 405.3,174.6 405.9,175.1 C406.6,175.6 407.2,176.1 407.8,176.6 C408.4,177.1 409.0,177.6 409.6,178.1 C410.3,178.6 410.9,179.0 411.5,179.5 C412.1,180.0 412.7,180.5 413.3,181.0 C414.0,181.5 414.6,181.9 415.2,182.4 C415.8,182.9 416.4,183.4 417.0,183.8 C417.7,184.3 418.3,184.8 418.9,185.2 C419.5,185.7 420.1,186.2 420.7,186.6 C421.3,187.1 422.0,187.6 422.6,188.0 C423.2,188.5 423.8,189.0 424.4,189.4 C425.0,189.9 425.7,190.3 426.3,190.8 C426.9,191.3 427.5,191.7 428.1,192.2 C428.7,192.6 429.4,193.1 430.0,193.5 C430.6,194.0 431.2,194.4 431.8,194.9 C432.4,195.3 433.1,195.7 433.7,196.2 C434.3,196.6 434.9,197.0 435.5,197.5 C436.1,197.9 436.7,198.2 437.4,198.6 C438.0,199.0 438.6,199.4 439.2,199.8 C439.8,200.2 440.4,200.5 441.1,200.9 C441.7,201.3 442.3,201.7 442.9,202.0 C443.5,202.4 444.1,202.8 444.8,203.2 C445.4,203.5 446.0,203.9 446.6,204.3 C447.2,204.7 447.8,205.0 448.5,205.4 C449.1,205.8 449.7,206.2 450.3,206.6 C450.9,207.1 451.5,207.5 452.1,207.9 C452.8,208.4 453.4,208.8 454.0,209.2 C454.6,209.6 455.2,210.1 455.8,210.5 C456.5,210.9 457.1,211.3 457.7,211.8 C458.3,212.2 459.2,212.8 459.5,213.1"/>
</g>
<path d="M265.5,241.5 C266.0,240.9 267.3,239.2 268.3,238.1 C269.2,236.9 270.1,235.8 271.0,234.6 C272.0,233.5 272.9,232.3 273.8,231.2 C274.7,230.0 275.7,228.9 276.6,227.7 C277.5,226.6 278.4,225.4 279.4,224.3 C280.3,223.1 281.2,222.0 282.1,220.8 C283.1,219.7 284.0,218.5 284.9,217.4 C285.8,216.2 286.8,215.1 287.7,213.9 C288.6,212.8 289.5,211.6 290.4,210.5 C291.4,209.3 292.3,208.2 293.2,207.0 C294.1,205.9 295.1,204.7 296.0,203.6 C296.9,202.4 297.8,201.3 298.8,200.1 C299.7,199.0 300.6,197.8 301.5,196.7 C302.5,195.5 303.4,194.4 304.3,193.2 C305.2,192.1 306.2,190.9 307.1,189.8 C308.0,188.6 308.9,187.5 309.9,186.3 C310.8,185.2 311.7,184.0 312.6,182.9 C313.5,181.7 314.5,180.6 315.4,179.4 C316.3,178.3 317.2,177.1 318.2,176.0 C319.1,174.8 320.0,173.6 320.9,172.4 C321.9,171.2 322.8,170.0 323.7,168.9 C324.6,167.7 325.6,166.5 326.5,165.5 C327.4,164.6 328.3,163.9 329.3,163.1 C330.2,162.3 331.1,161.5 332.0,160.7 C333.0,159.9 333.9,158.9 334.8,158.3 C335.7,157.8 336.6,157.7 337.6,157.3 C338.5,157.0 339.4,156.7 340.3,156.4 C341.3,156.0 342.2,155.6 343.1,155.4 C344.0,155.1 345.0,154.9 345.9,154.8 C346.8,154.6 347.7,154.5 348.7,154.4 C349.6,154.2 350.5,154.1 351.4,153.9 C352.4,153.8 353.3,153.7 354.2,153.5 C355.1,153.4 356.1,153.3 357.0,153.2 C357.9,153.1 358.8,152.9 359.7,152.8 C360.7,152.7 361.6,152.5 362.5,152.4 C363.4,152.4 364.4,152.4 365.3,152.4 C366.2,152.4 367.1,152.2 368.1,152.4 C369.0,152.6 369.9,153.1 370.8,153.4 C371.8,153.8 372.7,154.1 373.6,154.5 C374.5,154.8 375.5,155.1 376.4,155.5 C377.3,155.9 378.2,156.4 379.2,157.0 C380.1,157.6 381.0,158.3 381.9,159.0 C382.8,159.7 383.8,160.3 384.7,161.0 C385.6,161.7 386.5,162.4 387.5,163.2 C388.4,163.9 389.3,164.6 390.2,165.3 C391.2,166.0 392.1,166.7 393.0,167.4 C393.9,168.1 394.9,168.8 395.8,169.5 C396.7,170.2 397.6,170.9 398.6,171.7 C399.5,172.4 400.4,173.1 401.3,173.8 C402.3,174.5 403.2,175.2 404.1,175.9 C405.0,176.6 405.9,177.3 406.9,178.0 C407.8,178.7 408.7,179.4 409.6,180.1 C410.6,180.9 411.5,181.6 412.4,182.3 C413.3,183.0 414.3,183.7 415.2,184.4 C416.1,185.1 417.0,185.8 418.0,186.5 C418.9,187.2 419.8,187.9 420.7,188.6 C421.7,189.4 422.6,190.1 423.5,190.8 C424.4,191.5 425.4,192.2 426.3,192.9 C427.2,193.7 428.1,194.4 429.0,195.1 C430.0,195.8 430.9,196.6 431.8,197.3 C432.7,198.0 433.7,198.8 434.6,199.5 C435.5,200.2 436.4,200.8 437.4,201.4 C438.3,202.0 439.2,202.6 440.1,203.2 C441.1,203.9 442.0,204.5 442.9,205.1 C443.8,205.7 444.8,206.3 445.7,206.9 C446.6,207.6 447.5,208.2 448.5,208.8 C449.4,209.4 450.3,210.0 451.2,210.6 C452.1,211.3 453.1,211.9 454.0,212.5 C454.9,213.1 455.8,213.7 456.8,214.4 C457.7,215.0 459.1,215.9 459.5,216.2" fill="none" stroke="#f01010" stroke-width="1.2"/>
<path d="M265.5,241.5 C266.0,241.2 267.3,240.2 268.3,239.5 C269.2,238.9 270.1,238.2 271.0,237.5 C272.0,236.9 272.9,236.1 273.8,235.5 C274.7,235.0 275.7,234.5 276.6,234.1 C277.5,233.6 278.4,233.3 279.4,232.9 C280.3,232.4 281.2,232.0 282.1,231.6 C283.1,231.2 284.0,230.8 284.9,230.4 C285.8,230.0 286.8,229.6 287.7,229.2 C288.6,228.8 289.5,228.4 290.4,228.0 C291.4,227.6 292.3,227.3 293.2,226.9 C294.1,226.5 295.1,226.1 296.0,225.7 C296.9,225.4 297.8,225.0 298.8,224.6 C299.7,224.2 300.6,223.9 301.5,223.5 C302.5,223.1 303.4,222.7 304.3,222.4 C305.2,222.0 306.2,221.6 307.1,221.2 C308.0,220.8 308.9,220.5 309.9,220.1 C310.8,219.7 311.7,219.4 312.6,219.0 C313.5,218.5 314.5,218.1 315.4,217.7 C316.3,217.2 317.2,216.8 318.2,216.4 C319.1,216.0 320.0,215.5 320.9,215.1 C321.9,214.7 322.8,214.2 323.7,213.8 C324.6,213.5 325.6,213.1 326.5,212.9 C327.4,212.6 328.3,212.4 329.3,212.2 C330.2,211.9 331.1,211.7 332.0,211.5 C333.0,211.2 333.9,211.0 334.8,210.8 C335.7,210.5 336.6,210.2 337.6,210.1 C338.5,210.0 339.4,210.1 340.3,210.2 C341.3,210.2 342.2,210.2 343.1,210.2 C344.0,210.3 345.0,210.3 345.9,210.3 C346.8,210.3 347.7,210.4 348.7,210.4 C349.6,210.4 350.5,210.4 351.4,210.3 C352.4,210.3 353.3,210.2 354.2,210.1 C355.1,210.0 356.1,209.9 357.0,209.9 C357.9,209.8 358.8,209.7 359.7,209.6 C360.7,209.6 361.6,209.4 362.5,209.4 C363.4,209.5 364.4,209.7 365.3,209.9 C366.2,210.1 367.1,210.2 368.1,210.4 C369.0,210.5 369.9,210.7 370.8,210.9 C371.8,211.0 372.7,211.2 373.6,211.3 C374.5,211.5 375.5,211.7 376.4,211.9 C377.3,212.1 378.2,212.3 379.2,212.6 C380.1,212.8 381.0,213.0 381.9,213.2 C382.8,213.4 383.8,213.7 384.7,213.9 C385.6,214.1 386.5,214.3 387.5,214.6 C388.4,214.8 389.3,215.0 390.2,215.2 C391.2,215.4 392.1,215.7 393.0,215.9 C393.9,216.1 394.9,216.3 395.8,216.5 C396.7,216.8 397.6,217.0 398.6,217.2 C399.5,217.4 400.4,217.7 401.3,217.9 C402.3,218.1 403.2,218.4 404.1,218.6 C405.0,218.9 405.9,219.1 406.9,219.4 C407.8,219.6 408.7,219.8 409.6,220.1 C410.6,220.3 411.5,220.6 412.4,220.8 C413.3,221.1 414.3,221.3 415.2,221.5 C416.1,221.8 417.0,222.0 418.0,222.3 C418.9,222.5 419.8,222.8 420.7,223.0 C421.7,223.2 422.6,223.5 423.5,223.7 C424.4,224.0 425.4,224.2 426.3,224.5 C427.2,224.7 428.1,225.0 429.0,225.2 C430.0,225.4 430.9,225.7 431.8,225.9 C432.7,226.2 433.7,226.4 434.6,226.7 C435.5,226.9 436.4,227.1 437.4,227.4 C438.3,227.6 439.2,227.9 440.1,228.1 C441.1,228.4 442.0,228.6 442.9,228.9 C443.8,229.1 444.8,229.3 445.7,229.6 C446.6,229.8 447.5,230.1 448.5,230.3 C449.4,230.6 450.3,230.8 451.2,231.0 C452.1,231.3 453.1,231.5 454.0,231.8 C454.9,232.0 455.8,232.3 456.8,232.5 C457.7,232.7 459.1,233.1 459.5,233.2" fill="none" stroke="#1a1ae6" stroke-width="1.2"/>
<rect x="269" y="145.2" width="16" height="19.8" fill="#000"/>
<text x="273.2" y="161.2" font-family="Liberation Sans, sans-serif" font-size="14.3" font-weight="bold" fill="#fff" textLength="8.2" lengthAdjust="spacingAndGlyphs">C</text>
<rect x="386.4" y="145.2" width="71.1" height="44.5" fill="#c8c8c8" stroke="#a0a0a0" stroke-width="0.6"/>
<circle cx="393.2" cy="153" r="3.4" fill="#000"/>
<circle cx="393.2" cy="167.5" r="3.4" fill="#ff0000"/>
<circle cx="394.1" cy="182.5" r="4.3" fill="#0000ff"/>
<g font-family="Liberation Sans, sans-serif" font-size="8.4" fill="#1a1a1a">
<text x="399.9" y="157.4" textLength="42.2" lengthAdjust="spacingAndGlyphs">CoM velocity</text>
<text x="399.9" y="171.5" textLength="45.2" lengthAdjust="spacingAndGlyphs">Mean velocity</text>
<text x="402.6" y="186" textLength="51.2" lengthAdjust="spacingAndGlyphs">Froude Number</text>
</g>
<g font-family="Liberation Sans, sans-serif" font-size="8.4" fill="#333">
<text x="257.9" y="244.2" textLength="3.8" lengthAdjust="spacingAndGlyphs">0</text>
<text x="257.9" y="211.2" textLength="3.8" lengthAdjust="spacingAndGlyphs">2</text>
<text x="257.9" y="178.1" textLength="3.8" lengthAdjust="spacingAndGlyphs">4</text>
<text x="257.9" y="145.1" textLength="3.8" lengthAdjust="spacingAndGlyphs">6</text>
<text x="263.6" y="253.6" textLength="3.8" lengthAdjust="spacingAndGlyphs">0</text>
<text x="284.8" y="253.6" textLength="7.6" lengthAdjust="spacingAndGlyphs">50</text>
<text x="306.0" y="253.6" textLength="11.4" lengthAdjust="spacingAndGlyphs">100</text>
<text x="329.1" y="253.6" textLength="11.4" lengthAdjust="spacingAndGlyphs">150</text>
<text x="352.2" y="253.6" textLength="11.4" lengthAdjust="spacingAndGlyphs">200</text>
<text x="375.3" y="253.6" textLength="11.4" lengthAdjust="spacingAndGlyphs">250</text>
<text x="398.4" y="253.6" textLength="11.4" lengthAdjust="spacingAndGlyphs">300</text>
<text x="421.5" y="253.6" textLength="11.4" lengthAdjust="spacingAndGlyphs">350</text>
<text x="444.6" y="253.6" textLength="11.4" lengthAdjust="spacingAndGlyphs">400</text>
</g>
<g font-family="Liberation Sans, sans-serif" font-size="8.4" fill="#2a2ae8">
<text x="463.7" y="244.2" textLength="9.9" lengthAdjust="spacingAndGlyphs">0.0</text>
<text x="463.7" y="211.2" textLength="9.9" lengthAdjust="spacingAndGlyphs">0.2</text>
<text x="463.7" y="178.1" textLength="9.9" lengthAdjust="spacingAndGlyphs">0.4</text>
<text x="463.7" y="145.1" textLength="9.9" lengthAdjust="spacingAndGlyphs">0.6</text>
</g>
<text x="348.4" y="268.4" font-family="Liberation Sans, sans-serif" font-size="8.7" font-weight="bold" fill="#111" textLength="29.6" lengthAdjust="spacingAndGlyphs">Time (s)</text>
<text transform="translate(251 192) rotate(-90)" font-family="Liberation Sans, sans-serif" font-size="8.7" font-weight="bold" fill="#111" text-anchor="middle" textLength="53.9" lengthAdjust="spacingAndGlyphs">Velocity (m/s)</text>
<text transform="translate(488.1 191.6) rotate(-90)" font-family="Liberation Sans, sans-serif" font-size="8.7" font-weight="bold" fill="#1c1cf0" text-anchor="middle" textLength="60.4" lengthAdjust="spacingAndGlyphs">Froude Number</text>
</g>
</svg>
</body></html>
